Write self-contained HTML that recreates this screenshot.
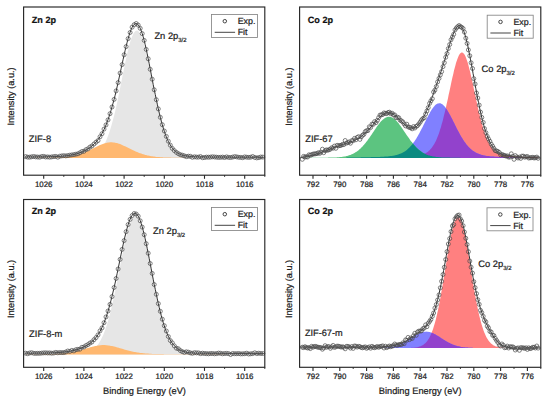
<!DOCTYPE html>
<html><head><meta charset="utf-8"><title>XPS spectra</title>
<style>html,body{margin:0;padding:0;background:#fff;}body{width:550px;height:398px;overflow:hidden;font-family:"Liberation Sans",sans-serif;}svg{display:block;}</style>
</head><body><svg width="550" height="398" viewBox="0 0 550 398" font-family='"Liberation Sans", sans-serif' text-rendering="geometricPrecision" fill="#1c1c1c"><style>text{stroke:#1c1c1c;stroke-width:0.22px}</style><path d="M53.8 158.1L53.8 157.9L54.8 157.9L55.8 157.9L56.8 157.9L57.8 157.9L58.8 157.9L59.8 157.9L60.8 157.9L61.8 157.9L62.8 157.9L63.8 157.9L64.8 157.9L65.8 157.9L66.8 157.9L67.8 157.9L68.8 157.8L69.8 157.8L70.8 157.8L71.8 157.8L72.8 157.8L73.9 157.8L74.9 157.8L75.9 157.8L76.9 157.7L77.9 157.7L78.9 157.7L79.9 157.6L80.9 157.6L81.9 157.5L82.9 157.5L83.9 157.4L84.9 157.3L85.9 157.2L86.9 157.1L87.9 156.9L88.9 156.7L89.9 156.5L90.9 156.2L91.9 155.9L92.9 155.5L94 155.1L95 154.6L96 154L97 153.3L98 152.5L99 151.6L100 150.6L101 149.4L102 148.1L103 146.6L104 144.9L105 143L106 140.9L107 138.6L108 136.1L109 133.3L110 130.3L111 127L112 123.5L113 119.8L114.1 115.8L115.1 111.7L116.1 107.3L117.1 102.7L118.1 98L119.1 93.1L120.1 88.1L121.1 83.1L122.1 78L123.1 73L124.1 68L125.1 63.1L126.1 58.4L127.1 54L128.1 49.7L129.1 45.8L130.1 42.3L131.1 39.1L132.1 36.4L133.1 34.2L134.2 32.5L135.2 31.3L136.2 30.7L137.2 30.6L138.2 31.1L139.2 32.2L140.2 33.7L141.2 35.8L142.2 38.4L143.2 41.4L144.2 44.9L145.2 48.7L146.2 52.8L147.2 57.3L148.2 61.9L149.2 66.7L150.2 71.7L151.2 76.7L152.2 81.8L153.2 86.8L154.2 91.8L155.3 96.7L156.3 101.5L157.3 106.1L158.3 110.5L159.3 114.8L160.3 118.8L161.3 122.6L162.3 126.2L163.3 129.5L164.3 132.5L165.3 135.4L166.3 138L167.3 140.3L168.3 142.5L169.3 144.4L170.3 146.2L171.3 147.7L172.3 149.1L173.3 150.3L174.3 151.4L175.4 152.3L176.4 153.1L177.4 153.8L178.4 154.5L179.4 155L180.4 155.4L181.4 155.8L182.4 156.2L183.4 156.4L184.4 156.7L185.4 156.9L186.4 157L187.4 157.2L188.4 157.3L189.4 157.4L190.4 157.5L191.4 157.5L192.4 157.6L193.4 157.6L194.5 157.7L195.5 157.7L196.5 157.7L197.5 157.7L198.5 157.8L199.5 157.8L200.5 157.8L201.5 157.8L202.5 157.8L203.5 157.8L204.5 157.8L205.5 157.8L206.5 157.9L207.5 157.9L208.5 157.9L209.5 157.9L210.5 157.9L211.5 157.9L212.5 157.9L213.5 157.9L214.6 157.9L215.6 157.9L216.6 157.9L217.6 157.9L218.6 157.9L219.6 157.9L220.6 157.9L221.6 157.9L222.6 157.9L223.6 157.9L224.6 157.9L224.6 158.1Z" fill="#e6e6e6"/><path d="M25.6 158.1L25.6 157.9L26.6 157.9L27.6 157.9L28.6 157.9L29.6 157.9L30.6 157.9L31.6 157.9L32.6 157.9L33.7 157.9L34.7 157.9L35.7 157.9L36.7 157.8L37.7 157.8L38.7 157.8L39.7 157.8L40.7 157.8L41.7 157.8L42.7 157.8L43.7 157.8L44.7 157.8L45.7 157.8L46.7 157.8L47.7 157.7L48.7 157.7L49.7 157.7L50.7 157.7L51.7 157.7L52.7 157.6L53.8 157.6L54.8 157.6L55.8 157.5L56.8 157.5L57.8 157.5L58.8 157.4L59.8 157.4L60.8 157.3L61.8 157.2L62.8 157.2L63.8 157.1L64.8 157L65.8 156.9L66.8 156.8L67.8 156.7L68.8 156.5L69.8 156.4L70.8 156.2L71.8 156.1L72.8 155.9L73.9 155.7L74.9 155.5L75.9 155.2L76.9 155L77.9 154.7L78.9 154.4L79.9 154.1L80.9 153.8L81.9 153.4L82.9 153.1L83.9 152.7L84.9 152.3L85.9 151.8L86.9 151.4L87.9 151L88.9 150.5L89.9 150L90.9 149.5L91.9 149L92.9 148.5L93.9 148L95 147.5L96 147L97 146.5L98 146L99 145.6L100 145.1L101 144.7L102 144.3L103 143.9L104 143.6L105 143.2L106 143L107 142.7L108 142.6L109 142.4L110 142.3L111 142.3L112 142.3L113 142.4L114.1 142.5L115.1 142.7L116.1 142.9L117.1 143.1L118.1 143.4L119.1 143.8L120.1 144.1L121.1 144.5L122.1 144.9L123.1 145.4L124.1 145.9L125.1 146.3L126.1 146.8L127.1 147.3L128.1 147.8L129.1 148.3L130.1 148.8L131.1 149.3L132.1 149.8L133.1 150.3L134.2 150.8L135.2 151.2L136.2 151.7L137.2 152.1L138.2 152.5L139.2 152.9L140.2 153.3L141.2 153.6L142.2 154L143.2 154.3L144.2 154.6L145.2 154.9L146.2 155.1L147.2 155.4L148.2 155.6L149.2 155.8L150.2 156L151.2 156.2L152.2 156.3L153.2 156.5L154.2 156.6L155.3 156.8L156.3 156.9L157.3 157L158.3 157.1L159.3 157.1L160.3 157.2L161.3 157.3L162.3 157.3L163.3 157.4L164.3 157.4L165.3 157.5L166.3 157.5L167.3 157.6L168.3 157.6L169.3 157.6L170.3 157.6L171.3 157.7L172.3 157.7L173.3 157.7L174.3 157.7L175.4 157.7L176.4 157.8L177.4 157.8L178.4 157.8L179.4 157.8L180.4 157.8L181.4 157.8L182.4 157.8L183.4 157.8L184.4 157.8L185.4 157.8L186.4 157.9L187.4 157.9L188.4 157.9L189.4 157.9L190.4 157.9L191.4 157.9L192.4 157.9L193.4 157.9L194.5 157.9L195.5 157.9L196.5 157.9L197.5 157.9L198.5 157.9L199.5 157.9L200.5 157.9L201.5 157.9L202.5 157.9L203.5 157.9L204.5 157.9L205.5 157.9L206.5 157.9L207.5 157.9L208.5 158L209.5 158L210.5 158L211.5 158L212.5 158L213.5 158L214.6 158L215.6 158L216.6 158L217.6 158L218.6 158L219.6 158L220.6 158L221.6 158L222.6 158L223.6 158L224.6 158L224.6 158.1Z" fill="#ffb870"/><path d="M24.6 157L25.6 157L26.6 157L27.6 156.9L28.6 156.9L29.6 156.9L30.6 156.9L31.6 156.9L32.6 156.9L33.7 156.9L34.7 156.9L35.7 156.9L36.7 156.9L37.7 156.9L38.7 156.9L39.7 156.9L40.7 156.8L41.7 156.8L42.7 156.8L43.7 156.8L44.7 156.8L45.7 156.8L46.7 156.8L47.7 156.7L48.7 156.7L49.7 156.7L50.7 156.7L51.7 156.6L52.7 156.6L53.8 156.6L54.8 156.6L55.8 156.5L56.8 156.5L57.8 156.4L58.8 156.4L59.8 156.3L60.8 156.3L61.8 156.2L62.8 156.1L63.8 156L64.8 155.9L65.8 155.8L66.8 155.7L67.8 155.6L68.8 155.4L69.8 155.3L70.8 155.1L71.8 154.9L72.8 154.7L73.9 154.5L74.9 154.3L75.9 154L76.9 153.8L77.9 153.5L78.9 153.1L79.9 152.8L80.9 152.4L81.9 152L82.9 151.6L83.9 151.1L84.9 150.6L85.9 150.1L86.9 149.5L87.9 148.9L88.9 148.3L89.9 147.6L90.9 146.8L91.9 146L92.9 145.1L94 144.2L95 143.2L96 142.1L97 140.9L98 139.6L99 138.3L100 136.8L101 135.2L102 133.4L103 131.5L104 129.5L105 127.3L106 125L107 122.4L108 119.7L109 116.8L110 113.7L111 110.4L112 106.9L113 103.3L114.1 99.4L115.1 95.4L116.1 91.2L117.1 86.9L118.1 82.5L119.1 77.9L120.1 73.3L121.1 68.7L122.1 64L123.1 59.5L124.1 54.9L125.1 50.6L126.1 46.4L127.1 42.4L128.1 38.7L129.1 35.3L130.1 32.2L131.1 29.6L132.1 27.4L133.1 25.6L134.2 24.4L135.2 23.7L136.2 23.5L137.2 23.9L138.2 24.8L139.2 26.2L140.2 28.2L141.2 30.6L142.2 33.5L143.2 36.9L144.2 40.6L145.2 44.7L146.2 49.1L147.2 53.8L148.2 58.7L149.2 63.7L150.2 68.8L151.2 74.1L152.2 79.3L153.2 84.5L154.2 89.6L155.3 94.6L156.3 99.5L157.3 104.2L158.3 108.8L159.3 113.1L160.3 117.2L161.3 121.1L162.3 124.7L163.3 128.1L164.3 131.2L165.3 134.1L166.3 136.7L167.3 139.1L168.3 141.3L169.3 143.2L170.3 145L171.3 146.6L172.3 148L173.3 149.2L174.3 150.3L175.4 151.3L176.4 152.1L177.4 152.8L178.4 153.4L179.4 154L180.4 154.4L181.4 154.8L182.4 155.2L183.4 155.5L184.4 155.7L185.4 155.9L186.4 156.1L187.4 156.2L188.4 156.3L189.4 156.4L190.4 156.5L191.4 156.6L192.4 156.7L193.4 156.7L194.5 156.8L195.5 156.8L196.5 156.8L197.5 156.9L198.5 156.9L199.5 156.9L200.5 156.9L201.5 156.9L202.5 157L203.5 157L204.5 157L205.5 157L206.5 157L207.5 157L208.5 157L209.5 157L210.5 157L211.5 157L212.5 157.1L213.5 157.1L214.6 157.1L215.6 157.1L216.6 157.1L217.6 157.1L218.6 157.1L219.6 157.1L220.6 157.1L221.6 157.1L222.6 157.1L223.6 157.1L224.6 157.1L225.6 157.1L226.6 157.1L227.6 157.1L228.6 157.2L229.6 157.2L230.6 157.2L231.6 157.2L232.6 157.2L233.6 157.2L234.7 157.2L235.7 157.2L236.7 157.2L237.7 157.2L238.7 157.2L239.7 157.2L240.7 157.2L241.7 157.2L242.7 157.2L243.7 157.2L244.7 157.2L245.7 157.2L246.7 157.2L247.7 157.2L248.7 157.2L249.7 157.2L250.7 157.2L251.7 157.2L252.7 157.2L253.7 157.2L254.8 157.2L255.8 157.2L256.8 157.2L257.8 157.2L258.8 157.3L259.8 157.3L260.8 157.3L261.8 157.3L262.8 157.3L263.8 157.3" fill="none" stroke="#262626" stroke-width="0.95"/><g fill="none" stroke="#4a4a4a" stroke-width="0.7"><circle cx="25.6" cy="156.6" r="2.0"/><circle cx="27.6" cy="157.1" r="2.0"/><circle cx="29.6" cy="157.2" r="2.0"/><circle cx="31.6" cy="156.8" r="2.0"/><circle cx="33.7" cy="156.5" r="2.0"/><circle cx="35.7" cy="156.9" r="2.0"/><circle cx="37.7" cy="157" r="2.0"/><circle cx="39.7" cy="157.2" r="2.0"/><circle cx="41.7" cy="156.5" r="2.0"/><circle cx="43.7" cy="156.4" r="2.0"/><circle cx="45.7" cy="157" r="2.0"/><circle cx="47.7" cy="156.9" r="2.0"/><circle cx="49.7" cy="157.2" r="2.0"/><circle cx="51.7" cy="156.9" r="2.0"/><circle cx="53.8" cy="156.6" r="2.0"/><circle cx="55.8" cy="156.4" r="2.0"/><circle cx="57.8" cy="157.2" r="2.0"/><circle cx="59.8" cy="156.2" r="2.0"/><circle cx="61.8" cy="155.9" r="2.0"/><circle cx="63.8" cy="155.7" r="2.0"/><circle cx="65.8" cy="155.9" r="2.0"/><circle cx="67.8" cy="155.6" r="2.0"/><circle cx="69.8" cy="155.2" r="2.0"/><circle cx="71.8" cy="154.9" r="2.0"/><circle cx="73.9" cy="154.6" r="2.0"/><circle cx="75.9" cy="154.2" r="2.0"/><circle cx="77.9" cy="153.8" r="2.0"/><circle cx="79.9" cy="152.8" r="2.0"/><circle cx="81.9" cy="151.5" r="2.0"/><circle cx="83.9" cy="151.3" r="2.0"/><circle cx="85.9" cy="149.7" r="2.0"/><circle cx="87.9" cy="148.9" r="2.0"/><circle cx="89.9" cy="147.1" r="2.0"/><circle cx="91.9" cy="146" r="2.0"/><circle cx="94" cy="144" r="2.0"/><circle cx="96" cy="142.2" r="2.0"/><circle cx="98" cy="140.6" r="2.0"/><circle cx="100" cy="136.8" r="2.0"/><circle cx="102" cy="133.7" r="2.0"/><circle cx="104" cy="129.1" r="2.0"/><circle cx="106" cy="124.9" r="2.0"/><circle cx="108" cy="119.9" r="2.0"/><circle cx="110" cy="113.7" r="2.0"/><circle cx="112" cy="107" r="2.0"/><circle cx="114.1" cy="99.4" r="2.0"/><circle cx="116.1" cy="90.9" r="2.0"/><circle cx="118.1" cy="82.6" r="2.0"/><circle cx="120.1" cy="73.1" r="2.0"/><circle cx="122.1" cy="64.6" r="2.0"/><circle cx="124.1" cy="54.8" r="2.0"/><circle cx="126.1" cy="46.6" r="2.0"/><circle cx="128.1" cy="38.7" r="2.0"/><circle cx="130.1" cy="32.5" r="2.0"/><circle cx="132.1" cy="27.2" r="2.0"/><circle cx="134.2" cy="24.7" r="2.0"/><circle cx="136.2" cy="23.5" r="2.0"/><circle cx="138.2" cy="25.1" r="2.0"/><circle cx="140.2" cy="28.3" r="2.0"/><circle cx="142.2" cy="33.6" r="2.0"/><circle cx="144.2" cy="40.4" r="2.0"/><circle cx="146.2" cy="49.4" r="2.0"/><circle cx="148.2" cy="58.8" r="2.0"/><circle cx="150.2" cy="69.3" r="2.0"/><circle cx="152.2" cy="79.2" r="2.0"/><circle cx="154.2" cy="89.8" r="2.0"/><circle cx="156.3" cy="99.7" r="2.0"/><circle cx="158.3" cy="108.9" r="2.0"/><circle cx="160.3" cy="117.3" r="2.0"/><circle cx="162.3" cy="124.7" r="2.0"/><circle cx="164.3" cy="131" r="2.0"/><circle cx="166.3" cy="136.4" r="2.0"/><circle cx="168.3" cy="141.2" r="2.0"/><circle cx="170.3" cy="145.2" r="2.0"/><circle cx="172.3" cy="148.4" r="2.0"/><circle cx="174.3" cy="150.6" r="2.0"/><circle cx="176.4" cy="152.4" r="2.0"/><circle cx="178.4" cy="153.7" r="2.0"/><circle cx="180.4" cy="154.7" r="2.0"/><circle cx="182.4" cy="155.2" r="2.0"/><circle cx="184.4" cy="155.9" r="2.0"/><circle cx="186.4" cy="156.6" r="2.0"/><circle cx="188.4" cy="156.2" r="2.0"/><circle cx="190.4" cy="156.3" r="2.0"/><circle cx="192.4" cy="157.3" r="2.0"/><circle cx="194.5" cy="156.8" r="2.0"/><circle cx="196.5" cy="157.1" r="2.0"/><circle cx="198.5" cy="157.1" r="2.0"/><circle cx="200.5" cy="156.6" r="2.0"/><circle cx="202.5" cy="157.7" r="2.0"/><circle cx="204.5" cy="157.5" r="2.0"/><circle cx="206.5" cy="157.1" r="2.0"/><circle cx="208.5" cy="157.2" r="2.0"/><circle cx="210.5" cy="157.1" r="2.0"/><circle cx="212.5" cy="156.8" r="2.0"/><circle cx="214.6" cy="157" r="2.0"/><circle cx="216.6" cy="157.2" r="2.0"/><circle cx="218.6" cy="157.4" r="2.0"/><circle cx="220.6" cy="157.3" r="2.0"/><circle cx="222.6" cy="157.1" r="2.0"/><circle cx="224.6" cy="157.5" r="2.0"/><circle cx="226.6" cy="156.9" r="2.0"/><circle cx="228.6" cy="157.4" r="2.0"/><circle cx="230.6" cy="157.5" r="2.0"/><circle cx="232.6" cy="157.1" r="2.0"/><circle cx="234.7" cy="156.6" r="2.0"/><circle cx="236.7" cy="156.9" r="2.0"/><circle cx="238.7" cy="157.3" r="2.0"/><circle cx="240.7" cy="157.4" r="2.0"/><circle cx="242.7" cy="157.7" r="2.0"/><circle cx="244.7" cy="156.9" r="2.0"/><circle cx="246.7" cy="157.2" r="2.0"/><circle cx="248.7" cy="157.4" r="2.0"/><circle cx="250.7" cy="157.2" r="2.0"/><circle cx="252.7" cy="156.5" r="2.0"/><circle cx="254.8" cy="157.5" r="2.0"/><circle cx="256.8" cy="157.9" r="2.0"/><circle cx="258.8" cy="157.6" r="2.0"/><circle cx="260.8" cy="157" r="2.0"/><circle cx="262.8" cy="157.1" r="2.0"/></g><path d="M53.8 354.4L53.8 354.2L54.8 354.2L55.8 354.2L56.8 354.2L57.8 354.2L58.8 354.2L59.8 354.2L60.8 354.1L61.8 354.1L62.8 354.1L63.8 354.1L64.8 354.1L65.8 354.1L66.8 354.1L67.8 354.1L68.8 354.1L69.8 354L70.8 354L71.8 354L72.8 354L73.9 353.9L74.9 353.9L75.9 353.9L76.9 353.8L77.9 353.8L78.9 353.7L79.9 353.6L80.9 353.5L81.9 353.4L82.9 353.2L83.9 353.1L84.9 352.9L85.9 352.6L86.9 352.4L87.9 352.1L88.9 351.7L89.9 351.2L90.9 350.7L91.9 350.1L92.9 349.5L94 348.7L95 347.8L96 346.8L97 345.7L98 344.4L99 342.9L100 341.3L101 339.5L102 337.6L103 335.4L104 333L105 330.3L106 327.5L107 324.4L108 321.1L109 317.5L110 313.7L111 309.7L112 305.5L113 301L114.1 296.4L115.1 291.6L116.1 286.7L117.1 281.6L118.1 276.5L119.1 271.3L120.1 266.1L121.1 261L122.1 255.9L123.1 250.9L124.1 246.1L125.1 241.5L126.1 237.2L127.1 233.2L128.1 229.5L129.1 226.3L130.1 223.4L131.1 221L132.1 219.1L133.1 217.7L134.2 216.8L135.2 216.5L136.2 216.7L137.2 217.4L138.2 218.7L139.2 220.5L140.2 222.8L141.2 225.6L142.2 228.8L143.2 232.4L144.2 236.3L145.2 240.6L146.2 245.1L147.2 249.8L148.2 254.8L149.2 259.8L150.2 265L151.2 270.1L152.2 275.3L153.2 280.5L154.2 285.5L155.3 290.5L156.3 295.3L157.3 300L158.3 304.5L159.3 308.8L160.3 312.8L161.3 316.7L162.3 320.3L163.3 323.7L164.3 326.8L165.3 329.7L166.3 332.4L167.3 334.9L168.3 337.1L169.3 339.1L170.3 341L171.3 342.6L172.3 344.1L173.3 345.4L174.3 346.6L175.4 347.6L176.4 348.5L177.4 349.3L178.4 350L179.4 350.6L180.4 351.1L181.4 351.6L182.4 352L183.4 352.3L184.4 352.6L185.4 352.8L186.4 353L187.4 353.2L188.4 353.4L189.4 353.5L190.4 353.6L191.4 353.7L192.4 353.7L193.4 353.8L194.5 353.9L195.5 353.9L196.5 353.9L197.5 354L198.5 354L199.5 354L200.5 354L201.5 354.1L202.5 354.1L203.5 354.1L204.5 354.1L205.5 354.1L206.5 354.1L207.5 354.1L208.5 354.1L209.5 354.1L210.5 354.2L211.5 354.2L212.5 354.2L213.5 354.2L214.6 354.2L215.6 354.2L216.6 354.2L217.6 354.2L218.6 354.2L219.6 354.2L220.6 354.2L221.6 354.2L222.6 354.2L223.6 354.2L224.6 354.2L224.6 354.4Z" fill="#e6e6e6"/><path d="M25.6 354.4L25.6 354.3L26.6 354.3L27.6 354.3L28.6 354.3L29.6 354.3L30.6 354.2L31.6 354.2L32.6 354.2L33.7 354.2L34.7 354.2L35.7 354.2L36.7 354.2L37.7 354.2L38.7 354.2L39.7 354.2L40.7 354.2L41.7 354.2L42.7 354.2L43.7 354.1L44.7 354.1L45.7 354.1L46.7 354.1L47.7 354.1L48.7 354.1L49.7 354L50.7 354L51.7 354L52.7 353.9L53.8 353.9L54.8 353.9L55.8 353.8L56.8 353.8L57.8 353.7L58.8 353.7L59.8 353.6L60.8 353.5L61.8 353.4L62.8 353.3L63.8 353.2L64.8 353.1L65.8 353L66.8 352.9L67.8 352.8L68.8 352.6L69.8 352.5L70.8 352.3L71.8 352.1L72.8 351.9L73.9 351.7L74.9 351.5L75.9 351.3L76.9 351.1L77.9 350.8L78.9 350.6L79.9 350.3L80.9 350L81.9 349.8L82.9 349.5L83.9 349.2L84.9 348.9L85.9 348.6L86.9 348.3L87.9 348L88.9 347.7L89.9 347.4L90.9 347.1L91.9 346.9L92.9 346.6L93.9 346.4L95 346.1L96 345.9L97 345.7L98 345.6L99 345.4L100 345.3L101 345.2L102 345.1L103 345.1L104 345.1L105 345.1L106 345.2L107 345.3L108 345.4L109 345.5L110 345.7L111 345.9L112 346.1L113 346.3L114.1 346.6L115.1 346.8L116.1 347.1L117.1 347.4L118.1 347.6L119.1 347.9L120.1 348.2L121.1 348.5L122.1 348.8L123.1 349.1L124.1 349.4L125.1 349.7L126.1 350L127.1 350.2L128.1 350.5L129.1 350.8L130.1 351L131.1 351.2L132.1 351.5L133.1 351.7L134.2 351.9L135.2 352.1L136.2 352.3L137.2 352.4L138.2 352.6L139.2 352.7L140.2 352.9L141.2 353L142.2 353.1L143.2 353.2L144.2 353.3L145.2 353.4L146.2 353.5L147.2 353.6L148.2 353.6L149.2 353.7L150.2 353.8L151.2 353.8L152.2 353.9L153.2 353.9L154.2 353.9L155.3 354L156.3 354L157.3 354L158.3 354.1L159.3 354.1L160.3 354.1L161.3 354.1L162.3 354.1L163.3 354.1L164.3 354.2L165.3 354.2L166.3 354.2L167.3 354.2L168.3 354.2L169.3 354.2L170.3 354.2L171.3 354.2L172.3 354.2L173.3 354.2L174.3 354.2L175.4 354.2L176.4 354.2L177.4 354.2L178.4 354.3L179.4 354.3L180.4 354.3L181.4 354.3L182.4 354.3L183.4 354.3L184.4 354.3L185.4 354.3L186.4 354.3L187.4 354.3L188.4 354.3L189.4 354.3L190.4 354.3L191.4 354.3L192.4 354.3L193.4 354.3L194.5 354.3L195.5 354.3L196.5 354.3L197.5 354.3L198.5 354.3L199.5 354.3L200.5 354.3L201.5 354.3L202.5 354.3L203.5 354.3L204.5 354.3L205.5 354.3L206.5 354.3L207.5 354.3L208.5 354.3L209.5 354.3L210.5 354.3L211.5 354.3L212.5 354.3L213.5 354.3L214.6 354.3L215.6 354.3L216.6 354.3L217.6 354.3L218.6 354.3L219.6 354.3L220.6 354.3L221.6 354.3L222.6 354.3L223.6 354.3L224.6 354.3L224.6 354.4Z" fill="#ffb870"/><path d="M24.6 353.3L25.6 353.2L26.6 353.2L27.6 353.2L28.6 353.2L29.6 353.2L30.6 353.2L31.6 353.2L32.6 353.2L33.7 353.2L34.7 353.2L35.7 353.2L36.7 353.2L37.7 353.2L38.7 353.1L39.7 353.1L40.7 353.1L41.7 353.1L42.7 353.1L43.7 353.1L44.7 353.1L45.7 353L46.7 353L47.7 353L48.7 353L49.7 352.9L50.7 352.9L51.7 352.9L52.7 352.8L53.8 352.8L54.8 352.8L55.8 352.7L56.8 352.6L57.8 352.6L58.8 352.5L59.8 352.4L60.8 352.4L61.8 352.3L62.8 352.2L63.8 352.1L64.8 352L65.8 351.8L66.8 351.7L67.8 351.5L68.8 351.4L69.8 351.2L70.8 351L71.8 350.8L72.8 350.6L73.9 350.4L74.9 350.1L75.9 349.9L76.9 349.6L77.9 349.3L78.9 349L79.9 348.6L80.9 348.2L81.9 347.8L82.9 347.4L83.9 347L84.9 346.5L85.9 345.9L86.9 345.4L87.9 344.7L88.9 344.1L89.9 343.4L90.9 342.6L91.9 341.7L92.9 340.8L94 339.8L95 338.7L96 337.4L97 336.1L98 334.7L99 333.1L100 331.3L101 329.5L102 327.4L103 325.2L104 322.8L105 320.2L106 317.4L107 314.4L108 311.2L109 307.8L110 304.1L111 300.3L112 296.3L113 292.1L114.1 287.7L115.1 283.1L116.1 278.5L117.1 273.7L118.1 268.9L119.1 264L120.1 259.1L121.1 254.2L122.1 249.5L123.1 244.8L124.1 240.3L125.1 236L126.1 232L127.1 228.2L128.1 224.8L129.1 221.8L130.1 219.2L131.1 217L132.1 215.4L133.1 214.2L134.2 213.5L135.2 213.4L136.2 213.8L137.2 214.7L138.2 216.1L139.2 218.1L140.2 220.5L141.2 223.4L142.2 226.7L143.2 230.4L144.2 234.5L145.2 238.8L146.2 243.4L147.2 248.3L148.2 253.3L149.2 258.4L150.2 263.6L151.2 268.8L152.2 274.1L153.2 279.2L154.2 284.4L155.3 289.4L156.3 294.2L157.3 298.9L158.3 303.4L159.3 307.7L160.3 311.8L161.3 315.7L162.3 319.3L163.3 322.7L164.3 325.9L165.3 328.8L166.3 331.5L167.3 333.9L168.3 336.2L169.3 338.2L170.3 340.1L171.3 341.7L172.3 343.2L173.3 344.5L174.3 345.7L175.4 346.7L176.4 347.7L177.4 348.5L178.4 349.2L179.4 349.8L180.4 350.3L181.4 350.7L182.4 351.1L183.4 351.5L184.4 351.8L185.4 352L186.4 352.2L187.4 352.4L188.4 352.5L189.4 352.7L190.4 352.8L191.4 352.9L192.4 352.9L193.4 353L194.5 353.1L195.5 353.1L196.5 353.1L197.5 353.2L198.5 353.2L199.5 353.2L200.5 353.3L201.5 353.3L202.5 353.3L203.5 353.3L204.5 353.3L205.5 353.3L206.5 353.3L207.5 353.3L208.5 353.4L209.5 353.4L210.5 353.4L211.5 353.4L212.5 353.4L213.5 353.4L214.6 353.4L215.6 353.4L216.6 353.4L217.6 353.4L218.6 353.4L219.6 353.4L220.6 353.4L221.6 353.4L222.6 353.5L223.6 353.5L224.6 353.5L225.6 353.5L226.6 353.5L227.6 353.5L228.6 353.5L229.6 353.5L230.6 353.5L231.6 353.5L232.6 353.5L233.6 353.5L234.7 353.5L235.7 353.5L236.7 353.5L237.7 353.5L238.7 353.5L239.7 353.5L240.7 353.5L241.7 353.5L242.7 353.5L243.7 353.5L244.7 353.5L245.7 353.5L246.7 353.5L247.7 353.5L248.7 353.5L249.7 353.5L250.7 353.6L251.7 353.6L252.7 353.6L253.7 353.6L254.8 353.6L255.8 353.6L256.8 353.6L257.8 353.6L258.8 353.6L259.8 353.6L260.8 353.6L261.8 353.6L262.8 353.6L263.8 353.6" fill="none" stroke="#262626" stroke-width="0.95"/><g fill="none" stroke="#4a4a4a" stroke-width="0.7"><circle cx="25.6" cy="353.2" r="2.0"/><circle cx="27.6" cy="353.7" r="2.0"/><circle cx="29.6" cy="353" r="2.0"/><circle cx="31.6" cy="352.7" r="2.0"/><circle cx="33.7" cy="353.3" r="2.0"/><circle cx="35.7" cy="353.4" r="2.0"/><circle cx="37.7" cy="353.3" r="2.0"/><circle cx="39.7" cy="353.3" r="2.0"/><circle cx="41.7" cy="353.1" r="2.0"/><circle cx="43.7" cy="352.9" r="2.0"/><circle cx="45.7" cy="352.8" r="2.0"/><circle cx="47.7" cy="353" r="2.0"/><circle cx="49.7" cy="352.9" r="2.0"/><circle cx="51.7" cy="353.2" r="2.0"/><circle cx="53.8" cy="353" r="2.0"/><circle cx="55.8" cy="352.4" r="2.0"/><circle cx="57.8" cy="352.8" r="2.0"/><circle cx="59.8" cy="352.5" r="2.0"/><circle cx="61.8" cy="352.6" r="2.0"/><circle cx="63.8" cy="352.6" r="2.0"/><circle cx="65.8" cy="352" r="2.0"/><circle cx="67.8" cy="351" r="2.0"/><circle cx="69.8" cy="351.4" r="2.0"/><circle cx="71.8" cy="350.4" r="2.0"/><circle cx="73.9" cy="350.9" r="2.0"/><circle cx="75.9" cy="349.7" r="2.0"/><circle cx="77.9" cy="349.3" r="2.0"/><circle cx="79.9" cy="349.2" r="2.0"/><circle cx="81.9" cy="347.3" r="2.0"/><circle cx="83.9" cy="347" r="2.0"/><circle cx="85.9" cy="345.6" r="2.0"/><circle cx="87.9" cy="344.6" r="2.0"/><circle cx="89.9" cy="343.1" r="2.0"/><circle cx="91.9" cy="342" r="2.0"/><circle cx="94" cy="339.7" r="2.0"/><circle cx="96" cy="337.6" r="2.0"/><circle cx="98" cy="334.9" r="2.0"/><circle cx="100" cy="330.9" r="2.0"/><circle cx="102" cy="327.9" r="2.0"/><circle cx="104" cy="322.7" r="2.0"/><circle cx="106" cy="316.9" r="2.0"/><circle cx="108" cy="311" r="2.0"/><circle cx="110" cy="304.4" r="2.0"/><circle cx="112" cy="296.6" r="2.0"/><circle cx="114.1" cy="287.5" r="2.0"/><circle cx="116.1" cy="278.5" r="2.0"/><circle cx="118.1" cy="269" r="2.0"/><circle cx="120.1" cy="259.4" r="2.0"/><circle cx="122.1" cy="249.4" r="2.0"/><circle cx="124.1" cy="240.6" r="2.0"/><circle cx="126.1" cy="231.7" r="2.0"/><circle cx="128.1" cy="224.6" r="2.0"/><circle cx="130.1" cy="219.4" r="2.0"/><circle cx="132.1" cy="215.6" r="2.0"/><circle cx="134.2" cy="213.5" r="2.0"/><circle cx="136.2" cy="214" r="2.0"/><circle cx="138.2" cy="216.2" r="2.0"/><circle cx="140.2" cy="220.8" r="2.0"/><circle cx="142.2" cy="227.1" r="2.0"/><circle cx="144.2" cy="234.7" r="2.0"/><circle cx="146.2" cy="243.7" r="2.0"/><circle cx="148.2" cy="253.2" r="2.0"/><circle cx="150.2" cy="263.5" r="2.0"/><circle cx="152.2" cy="273.4" r="2.0"/><circle cx="154.2" cy="284.5" r="2.0"/><circle cx="156.3" cy="294.3" r="2.0"/><circle cx="158.3" cy="303.6" r="2.0"/><circle cx="160.3" cy="311.3" r="2.0"/><circle cx="162.3" cy="319.2" r="2.0"/><circle cx="164.3" cy="325.7" r="2.0"/><circle cx="166.3" cy="331" r="2.0"/><circle cx="168.3" cy="336.5" r="2.0"/><circle cx="170.3" cy="340.5" r="2.0"/><circle cx="172.3" cy="342.9" r="2.0"/><circle cx="174.3" cy="345.9" r="2.0"/><circle cx="176.4" cy="348.2" r="2.0"/><circle cx="178.4" cy="348.8" r="2.0"/><circle cx="180.4" cy="350.6" r="2.0"/><circle cx="182.4" cy="351.7" r="2.0"/><circle cx="184.4" cy="352.4" r="2.0"/><circle cx="186.4" cy="351.8" r="2.0"/><circle cx="188.4" cy="352.2" r="2.0"/><circle cx="190.4" cy="352.9" r="2.0"/><circle cx="192.4" cy="353.3" r="2.0"/><circle cx="194.5" cy="352.7" r="2.0"/><circle cx="196.5" cy="352.9" r="2.0"/><circle cx="198.5" cy="352.9" r="2.0"/><circle cx="200.5" cy="353.6" r="2.0"/><circle cx="202.5" cy="353.2" r="2.0"/><circle cx="204.5" cy="353.5" r="2.0"/><circle cx="206.5" cy="353.6" r="2.0"/><circle cx="208.5" cy="353.8" r="2.0"/><circle cx="210.5" cy="353.5" r="2.0"/><circle cx="212.5" cy="353.5" r="2.0"/><circle cx="214.6" cy="353.8" r="2.0"/><circle cx="216.6" cy="353.6" r="2.0"/><circle cx="218.6" cy="353.1" r="2.0"/><circle cx="220.6" cy="353.3" r="2.0"/><circle cx="222.6" cy="353.8" r="2.0"/><circle cx="224.6" cy="353.5" r="2.0"/><circle cx="226.6" cy="353.4" r="2.0"/><circle cx="228.6" cy="353.6" r="2.0"/><circle cx="230.6" cy="354.5" r="2.0"/><circle cx="232.6" cy="353.5" r="2.0"/><circle cx="234.7" cy="353.7" r="2.0"/><circle cx="236.7" cy="353.7" r="2.0"/><circle cx="238.7" cy="353.5" r="2.0"/><circle cx="240.7" cy="353.9" r="2.0"/><circle cx="242.7" cy="353.8" r="2.0"/><circle cx="244.7" cy="353.7" r="2.0"/><circle cx="246.7" cy="353.2" r="2.0"/><circle cx="248.7" cy="354" r="2.0"/><circle cx="250.7" cy="353.8" r="2.0"/><circle cx="252.7" cy="353.6" r="2.0"/><circle cx="254.8" cy="352.8" r="2.0"/><circle cx="256.8" cy="353.6" r="2.0"/><circle cx="258.8" cy="353.2" r="2.0"/><circle cx="260.8" cy="353.5" r="2.0"/><circle cx="262.8" cy="353.5" r="2.0"/></g><path d="M373.3 158L373.3 157.4L374 157.4L374.6 157.4L375.3 157.4L376 157.4L376.7 157.4L377.3 157.4L378 157.4L378.7 157.4L379.4 157.3L380 157.3L380.7 157.3L381.4 157.3L382 157.3L382.7 157.3L383.4 157.3L384.1 157.3L384.7 157.3L385.4 157.2L386.1 157.2L386.8 157.2L387.4 157.2L388.1 157.2L388.8 157.2L389.4 157.2L390.1 157.1L390.8 157.1L391.5 157.1L392.1 157.1L392.8 157.1L393.5 157.1L394.2 157L394.8 157L395.5 157L396.2 157L396.8 157L397.5 157L398.2 156.9L398.9 156.9L399.5 156.9L400.2 156.9L400.9 156.8L401.6 156.8L402.2 156.8L402.9 156.8L403.6 156.7L404.2 156.7L404.9 156.7L405.6 156.6L406.3 156.6L406.9 156.6L407.6 156.5L408.3 156.5L409 156.5L409.6 156.4L410.3 156.4L411 156.3L411.6 156.3L412.3 156.2L413 156.2L413.7 156.1L414.3 156L415 156L415.7 155.9L416.4 155.8L417 155.7L417.7 155.6L418.4 155.5L419 155.4L419.7 155.2L420.4 155.1L421.1 154.9L421.7 154.7L422.4 154.5L423.1 154.3L423.8 154L424.4 153.7L425.1 153.4L425.8 153.1L426.4 152.7L427.1 152.2L427.8 151.7L428.5 151.2L429.1 150.6L429.8 150L430.5 149.3L431.2 148.5L431.8 147.7L432.5 146.8L433.2 145.8L433.8 144.7L434.5 143.5L435.2 142.2L435.9 140.9L436.5 139.4L437.2 137.8L437.9 136.1L438.6 134.3L439.2 132.4L439.9 130.4L440.6 128.2L441.2 126L441.9 123.6L442.6 121.2L443.3 118.6L443.9 115.9L444.6 113.1L445.3 110.3L446 107.3L446.6 104.3L447.3 101.3L448 98.2L448.6 95L449.3 91.9L450 88.7L450.7 85.5L451.3 82.4L452 79.3L452.7 76.3L453.4 73.4L454 70.6L454.7 67.9L455.4 65.4L456 63L456.7 60.9L457.4 58.9L458.1 57.2L458.7 55.7L459.4 54.5L460.1 53.5L460.8 52.9L461.4 52.5L462.1 52.4L462.8 52.7L463.4 53.2L464.1 54L464.8 55.1L465.5 56.5L466.1 58.1L466.8 59.9L467.5 62L468.2 64.3L468.8 66.8L469.5 69.4L470.2 72.1L470.8 75L471.5 78L472.2 81L472.9 84.1L473.5 87.3L474.2 90.4L474.9 93.6L475.6 96.8L476.2 99.9L476.9 103L477.6 106L478.2 109L478.9 111.9L479.6 114.7L480.3 117.4L480.9 120L481.6 122.5L482.3 124.9L483 127.2L483.6 129.4L484.3 131.5L485 133.5L485.6 135.3L486.3 137.1L487 138.7L487.7 140.2L488.3 141.6L489 142.9L489.7 144.2L490.4 145.3L491 146.3L491.7 147.3L492.4 148.2L493 149L493.7 149.7L494.4 150.4L495.1 151L495.7 151.5L496.4 152L497.1 152.5L497.8 152.9L498.4 153.3L499.1 153.6L499.8 153.9L500.4 154.2L501.1 154.4L501.8 154.6L502.5 154.8L503.1 155L503.8 155.2L504.5 155.3L505.2 155.4L505.8 155.6L506.5 155.7L507.2 155.8L507.8 155.9L508.5 155.9L509.2 156L509.9 156.1L510.5 156.1L511.2 156.2L511.9 156.3L512.6 156.3L513.2 156.4L513.9 156.4L514.6 156.4L515.2 156.5L515.9 156.5L516.6 156.6L517.3 156.6L517.9 156.6L518.6 156.7L519.3 156.7L520 156.7L520.6 156.8L521.3 156.8L522 156.8L522.6 156.8L523.3 156.9L524 156.9L524.7 156.9L525.3 156.9L526 156.9L526.7 157L527.4 157L528 157L528.7 157L529.4 157L530 157.1L530.7 157.1L531.4 157.1L532.1 157.1L532.7 157.1L533.4 157.1L534.1 157.2L534.8 157.2L535.4 157.2L536.1 157.2L536.8 157.2L537.4 157.2L538.1 157.2L538.1 158Z" fill="#ff8080"/><path d="M346.5 158L346.5 157.5L347.2 157.5L347.8 157.5L348.5 157.5L349.2 157.5L349.9 157.5L350.5 157.5L351.2 157.5L351.9 157.5L352.5 157.5L353.2 157.5L353.9 157.4L354.5 157.4L355.2 157.4L355.9 157.4L356.6 157.4L357.2 157.4L357.9 157.4L358.6 157.4L359.2 157.4L359.9 157.4L360.6 157.4L361.2 157.3L361.9 157.3L362.6 157.3L363.2 157.3L363.9 157.3L364.6 157.3L365.3 157.3L365.9 157.3L366.6 157.2L367.3 157.2L367.9 157.2L368.6 157.2L369.3 157.2L369.9 157.2L370.6 157.2L371.3 157.1L372 157.1L372.6 157.1L373.3 157.1L374 157.1L374.6 157.1L375.3 157L376 157L376.6 157L377.3 157L378 156.9L378.7 156.9L379.3 156.9L380 156.9L380.7 156.8L381.3 156.8L382 156.8L382.7 156.7L383.4 156.7L384 156.7L384.7 156.6L385.4 156.6L386 156.5L386.7 156.5L387.4 156.4L388 156.4L388.7 156.3L389.4 156.2L390.1 156.1L390.7 156.1L391.4 156L392.1 155.9L392.7 155.8L393.4 155.7L394.1 155.5L394.7 155.4L395.4 155.2L396.1 155.1L396.8 154.9L397.4 154.7L398.1 154.5L398.8 154.3L399.4 154.1L400.1 153.8L400.8 153.5L401.4 153.2L402.1 152.9L402.8 152.6L403.4 152.2L404.1 151.8L404.8 151.4L405.5 150.9L406.1 150.4L406.8 149.9L407.5 149.3L408.1 148.7L408.8 148.1L409.5 147.4L410.1 146.7L410.8 146L411.5 145.2L412.2 144.4L412.8 143.5L413.5 142.6L414.2 141.7L414.8 140.7L415.5 139.7L416.2 138.7L416.9 137.6L417.5 136.4L418.2 135.3L418.9 134.1L419.5 132.9L420.2 131.6L420.9 130.3L421.5 129L422.2 127.7L422.9 126.4L423.5 125L424.2 123.7L424.9 122.3L425.6 121L426.2 119.6L426.9 118.3L427.6 117L428.2 115.7L428.9 114.4L429.6 113.2L430.2 112L430.9 110.9L431.6 109.8L432.3 108.8L432.9 107.9L433.6 107L434.3 106.2L434.9 105.5L435.6 104.8L436.3 104.3L436.9 103.9L437.6 103.6L438.3 103.4L439 103.2L439.6 103.2L440.3 103.3L441 103.6L441.6 103.9L442.3 104.3L443 104.8L443.6 105.4L444.3 106.1L445 106.9L445.7 107.8L446.3 108.8L447 109.8L447.7 110.9L448.3 112L449 113.2L449.7 114.4L450.3 115.6L451 116.9L451.7 118.3L452.4 119.6L453 120.9L453.7 122.3L454.4 123.6L455 125L455.7 126.3L456.4 127.7L457 129L457.7 130.3L458.4 131.6L459.1 132.8L459.7 134L460.4 135.2L461.1 136.4L461.7 137.5L462.4 138.6L463.1 139.7L463.8 140.7L464.4 141.7L465.1 142.6L465.8 143.5L466.4 144.4L467.1 145.2L467.8 146L468.4 146.7L469.1 147.4L469.8 148.1L470.4 148.7L471.1 149.3L471.8 149.9L472.5 150.4L473.1 150.9L473.8 151.3L474.5 151.8L475.1 152.2L475.8 152.5L476.5 152.9L477.1 153.2L477.8 153.5L478.5 153.8L479.2 154.1L479.8 154.3L480.5 154.5L481.2 154.7L481.8 154.9L482.5 155.1L483.2 155.2L483.8 155.4L484.5 155.5L485.2 155.7L485.9 155.8L486.5 155.9L487.2 156L487.9 156.1L488.5 156.1L489.2 156.2L489.9 156.3L490.5 156.4L491.2 156.4L491.9 156.5L492.6 156.5L493.2 156.6L493.9 156.6L494.6 156.7L495.2 156.7L495.9 156.7L496.6 156.8L497.2 156.8L497.9 156.8L498.6 156.9L499.3 156.9L499.9 156.9L500.6 156.9L501.3 157L501.9 157L502.6 157L503.3 157L503.9 157.1L504.6 157.1L505.3 157.1L506 157.1L506.6 157.1L507.3 157.1L508 157.2L508.6 157.2L509.3 157.2L510 157.2L510.6 157.2L511.3 157.2L512 157.2L512.7 157.3L513.3 157.3L514 157.3L514.7 157.3L515.3 157.3L516 157.3L516.7 157.3L517.3 157.3L518 157.4L518.7 157.4L519.4 157.4L520 157.4L520.7 157.4L520.7 158Z" fill="#8080ff"/><path d="M306.3 158L306.3 157.8L307 157.8L307.6 157.8L308.3 157.8L309 157.8L309.7 157.8L310.3 157.8L311 157.8L311.7 157.8L312.3 157.8L313 157.8L313.7 157.8L314.3 157.8L315 157.8L315.7 157.8L316.4 157.8L317 157.8L317.7 157.8L318.4 157.8L319 157.8L319.7 157.7L320.4 157.7L321 157.7L321.7 157.7L322.4 157.7L323.1 157.7L323.7 157.7L324.4 157.7L325.1 157.7L325.7 157.7L326.4 157.7L327.1 157.7L327.7 157.7L328.4 157.6L329.1 157.6L329.8 157.6L330.4 157.6L331.1 157.6L331.8 157.6L332.4 157.5L333.1 157.5L333.8 157.5L334.4 157.5L335.1 157.4L335.8 157.4L336.5 157.4L337.1 157.3L337.8 157.3L338.5 157.2L339.1 157.2L339.8 157.1L340.5 157L341.1 157L341.8 156.9L342.5 156.8L343.2 156.7L343.8 156.6L344.5 156.5L345.2 156.4L345.8 156.2L346.5 156.1L347.2 155.9L347.8 155.7L348.5 155.5L349.2 155.3L349.9 155.1L350.5 154.9L351.2 154.6L351.9 154.3L352.5 154L353.2 153.7L353.9 153.3L354.5 153L355.2 152.6L355.9 152.1L356.6 151.7L357.2 151.2L357.9 150.7L358.6 150.2L359.2 149.6L359.9 149L360.6 148.4L361.2 147.8L361.9 147.1L362.6 146.4L363.2 145.6L363.9 144.9L364.6 144.1L365.3 143.3L365.9 142.4L366.6 141.5L367.3 140.7L367.9 139.7L368.6 138.8L369.3 137.9L369.9 136.9L370.6 135.9L371.3 134.9L372 133.9L372.6 132.9L373.3 131.9L374 130.9L374.6 129.9L375.3 128.9L376 128L376.6 127L377.3 126.1L378 125.2L378.7 124.3L379.3 123.4L380 122.6L380.7 121.8L381.3 121.1L382 120.4L382.7 119.8L383.4 119.2L384 118.7L384.7 118.2L385.4 117.8L386 117.5L386.7 117.2L387.4 117L388 116.8L388.7 116.8L389.4 116.8L390.1 116.9L390.7 117L391.4 117.2L392.1 117.5L392.7 117.9L393.4 118.3L394.1 118.8L394.7 119.3L395.4 119.9L396.1 120.6L396.8 121.3L397.4 122L398.1 122.8L398.8 123.6L399.4 124.5L400.1 125.4L400.8 126.3L401.4 127.3L402.1 128.2L402.8 129.2L403.4 130.2L404.1 131.2L404.8 132.2L405.5 133.2L406.1 134.2L406.8 135.2L407.5 136.2L408.1 137.1L408.8 138.1L409.5 139.1L410.1 140L410.8 140.9L411.5 141.8L412.2 142.6L412.8 143.5L413.5 144.3L414.2 145.1L414.8 145.8L415.5 146.6L416.2 147.3L416.9 147.9L417.5 148.6L418.2 149.2L418.9 149.8L419.5 150.3L420.2 150.8L420.9 151.3L421.5 151.8L422.2 152.3L422.9 152.7L423.5 153.1L424.2 153.4L424.9 153.8L425.6 154.1L426.2 154.4L426.9 154.7L427.6 154.9L428.2 155.2L428.9 155.4L429.6 155.6L430.2 155.8L430.9 155.9L431.6 156.1L432.3 156.3L432.9 156.4L433.6 156.5L434.3 156.6L434.9 156.7L435.6 156.8L436.3 156.9L436.9 157L437.6 157.1L438.3 157.1L439 157.2L439.6 157.2L440.3 157.3L441 157.3L441.6 157.4L442.3 157.4L443 157.4L443.6 157.5L444.3 157.5L445 157.5L445.7 157.5L446.3 157.6L447 157.6L447.7 157.6L448.3 157.6L449 157.6L449.7 157.6L450.3 157.7L451 157.7L451.7 157.7L452.4 157.7L453 157.7L453.7 157.7L454.4 157.7L455 157.7L455.7 157.7L456.4 157.7L457 157.7L457.7 157.7L458.4 157.7L459.1 157.8L459.7 157.8L460.4 157.8L460.4 158Z" fill="#5cc480"/><path d="M373.3 158L373.3 157.4L374 157.4L374.6 157.4L375.3 157.4L376 157.4L376.6 157.4L377.3 157.4L378 157.4L378.7 157.4L379.3 157.3L380 157.3L380.7 157.3L381.3 157.3L382 157.3L382.7 157.3L383.4 157.3L384 157.3L384.7 157.3L385.4 157.2L386 157.2L386.7 157.2L387.4 157.2L388 157.2L388.7 157.2L389.4 157.2L390.1 157.2L390.7 157.1L391.4 157.1L392.1 157.1L392.7 157.1L393.4 157.1L394.1 157.1L394.7 157L395.4 157L396.1 157L396.8 157L397.4 157L398.1 156.9L398.8 156.9L399.4 156.9L400.1 156.9L400.8 156.8L401.4 156.8L402.1 156.8L402.8 156.8L403.4 156.7L404.1 156.7L404.8 156.7L405.5 156.7L406.1 156.6L406.8 156.6L407.5 156.6L408.1 156.5L408.8 156.5L409.5 156.4L410.1 156.4L410.8 156.3L411.5 156.3L412.2 156.2L412.8 156.2L413.5 156.1L414.2 156.1L414.8 156L415.5 155.9L416.2 155.8L416.9 155.7L417.5 155.6L418.2 155.5L418.9 155.4L419.5 155.3L420.2 155.1L420.9 155L421.5 154.8L422.2 154.6L422.9 154.3L423.5 154.1L424.2 153.8L424.9 153.5L425.6 153.2L426.2 152.8L426.9 152.4L427.6 151.9L428.2 151.4L428.9 150.8L429.6 150.2L430.2 149.5L430.9 148.8L431.6 148L432.3 147.1L432.9 146.1L433.6 145.1L434.3 143.9L434.9 142.7L435.6 141.4L436.3 140L436.9 138.4L437.6 136.8L438.3 135L439 133.2L439.6 131.2L440.3 129.1L441 126.9L441.6 124.6L442.3 122.2L443 119.7L443.6 117.1L444.3 114.3L445 111.5L445.7 108.6L446.3 108.8L447 109.8L447.7 110.9L448.3 112L449 113.2L449.7 114.4L450.3 115.6L451 116.9L451.7 118.3L452.4 119.6L453 120.9L453.7 122.3L454.4 123.6L455 125L455.7 126.3L456.4 127.7L457 129L457.7 130.3L458.4 131.6L459.1 132.8L459.7 134L460.4 135.2L461.1 136.4L461.7 137.5L462.4 138.6L463.1 139.7L463.8 140.7L464.4 141.7L465.1 142.6L465.8 143.5L466.4 144.4L467.1 145.2L467.8 146L468.4 146.7L469.1 147.4L469.8 148.1L470.4 148.7L471.1 149.3L471.8 149.9L472.5 150.4L473.1 150.9L473.8 151.3L474.5 151.8L475.1 152.2L475.8 152.5L476.5 152.9L477.1 153.2L477.8 153.5L478.5 153.8L479.2 154.1L479.8 154.3L480.5 154.5L481.2 154.7L481.8 154.9L482.5 155.1L483.2 155.2L483.8 155.4L484.5 155.5L485.2 155.7L485.9 155.8L486.5 155.9L487.2 156L487.9 156.1L488.5 156.1L489.2 156.2L489.9 156.3L490.5 156.4L491.2 156.4L491.9 156.5L492.6 156.5L493.2 156.6L493.9 156.6L494.6 156.7L495.2 156.7L495.9 156.7L496.6 156.8L497.2 156.8L497.9 156.8L498.6 156.9L499.3 156.9L499.9 156.9L500.6 156.9L501.3 157L501.9 157L502.6 157L503.3 157L503.9 157.1L504.6 157.1L505.3 157.1L506 157.1L506.6 157.1L507.3 157.1L508 157.2L508.6 157.2L509.3 157.2L510 157.2L510.6 157.2L511.3 157.2L512 157.2L512.7 157.3L513.3 157.3L514 157.3L514.7 157.3L515.3 157.3L516 157.3L516.7 157.3L517.3 157.3L518 157.4L518.7 157.4L519.4 157.4L520 157.4L520.7 157.4L520.7 158Z" fill="#9242cc"/><path d="M346.5 158L346.5 157.5L347.2 157.5L347.8 157.5L348.5 157.5L349.2 157.5L349.9 157.5L350.5 157.5L351.2 157.5L351.9 157.5L352.5 157.5L353.2 157.5L353.9 157.4L354.5 157.4L355.2 157.4L355.9 157.4L356.6 157.4L357.2 157.4L357.9 157.4L358.6 157.4L359.2 157.4L359.9 157.4L360.6 157.4L361.2 157.3L361.9 157.3L362.6 157.3L363.2 157.3L363.9 157.3L364.6 157.3L365.3 157.3L365.9 157.3L366.6 157.2L367.3 157.2L367.9 157.2L368.6 157.2L369.3 157.2L369.9 157.2L370.6 157.2L371.3 157.1L372 157.1L372.6 157.1L373.3 157.1L374 157.1L374.6 157.1L375.3 157L376 157L376.6 157L377.3 157L378 156.9L378.7 156.9L379.3 156.9L380 156.9L380.7 156.8L381.3 156.8L382 156.8L382.7 156.7L383.4 156.7L384 156.7L384.7 156.6L385.4 156.6L386 156.5L386.7 156.5L387.4 156.4L388 156.4L388.7 156.3L389.4 156.2L390.1 156.1L390.7 156.1L391.4 156L392.1 155.9L392.7 155.8L393.4 155.7L394.1 155.5L394.7 155.4L395.4 155.2L396.1 155.1L396.8 154.9L397.4 154.7L398.1 154.5L398.8 154.3L399.4 154.1L400.1 153.8L400.8 153.5L401.4 153.2L402.1 152.9L402.8 152.6L403.4 152.2L404.1 151.8L404.8 151.4L405.5 150.9L406.1 150.4L406.8 149.9L407.5 149.3L408.1 148.7L408.8 148.1L409.5 147.4L410.1 146.7L410.8 146L411.5 145.2L412.2 144.4L412.8 143.5L413.5 144.3L414.2 145.1L414.8 145.8L415.5 146.6L416.2 147.3L416.9 147.9L417.5 148.6L418.2 149.2L418.9 149.8L419.5 150.3L420.2 150.8L420.9 151.3L421.5 151.8L422.2 152.3L422.9 152.7L423.5 153.1L424.2 153.4L424.9 153.8L425.6 154.1L426.2 154.4L426.9 154.7L427.6 154.9L428.2 155.2L428.9 155.4L429.6 155.6L430.2 155.8L430.9 155.9L431.6 156.1L432.3 156.3L432.9 156.4L433.6 156.5L434.3 156.6L434.9 156.7L435.6 156.8L436.3 156.9L436.9 157L437.6 157.1L438.3 157.1L439 157.2L439.6 157.2L440.3 157.3L441 157.3L441.6 157.4L442.3 157.4L443 157.4L443.6 157.5L444.3 157.5L445 157.5L445.7 157.5L446.3 157.6L447 157.6L447.7 157.6L448.3 157.6L449 157.6L449.7 157.6L450.3 157.7L451 157.7L451.7 157.7L452.4 157.7L453 157.7L453.7 157.7L454.4 157.7L455 157.7L455.7 157.7L456.4 157.7L457 157.7L457.7 157.7L458.4 157.7L459.1 157.8L459.7 157.8L460.4 157.8L460.4 158Z" fill="#0a8a80"/><path d="M300.3 157.4L300.9 157.4L301.6 157.3L302.3 157.2L303 157.1L303.6 157L304.3 156.9L305 156.8L305.6 156.7L306.3 156.5L307 156.4L307.6 156.3L308.3 156.2L309 156L309.7 155.9L310.3 155.7L311 155.6L311.7 155.4L312.3 155.2L313 155.1L313.7 154.9L314.3 154.7L315 154.5L315.7 154.3L316.4 154.1L317 153.9L317.7 153.7L318.4 153.5L319 153.3L319.7 153L320.4 152.8L321 152.6L321.7 152.3L322.4 152.1L323.1 151.8L323.7 151.6L324.4 151.3L325.1 151.1L325.7 150.8L326.4 150.6L327.1 150.3L327.7 150.1L328.4 149.8L329.1 149.5L329.8 149.3L330.4 149L331.1 148.8L331.8 148.5L332.4 148.2L333.1 148L333.8 147.7L334.4 147.5L335.1 147.2L335.8 147L336.5 146.7L337.1 146.5L337.8 146.2L338.5 146L339.1 145.8L339.8 145.5L340.5 145.3L341.1 145.1L341.8 144.9L342.5 144.6L343.2 144.4L343.8 144.2L344.5 144L345.2 143.8L345.8 143.5L346.5 143.3L347.2 143.1L347.8 142.9L348.5 142.7L349.2 142.4L349.9 142.2L350.5 142L351.2 141.7L351.9 141.5L352.5 141.2L353.2 140.9L353.9 140.6L354.5 140.3L355.2 140L355.9 139.7L356.6 139.3L357.2 139L357.9 138.6L358.6 138.2L359.2 137.8L359.9 137.3L360.6 136.9L361.2 136.4L361.9 135.9L362.6 135.4L363.2 134.8L363.9 134.2L364.6 133.6L365.3 133L365.9 132.4L366.6 131.7L367.3 131L367.9 130.3L368.6 129.6L369.3 128.9L369.9 128.1L370.6 127.4L371.3 126.6L372 125.8L372.6 125L373.3 124.3L374 123.5L374.6 122.7L375.3 121.9L376 121.1L376.6 120.4L377.3 119.6L378 118.9L378.7 118.2L379.3 117.5L380 116.9L380.7 116.3L381.3 115.7L382 115.2L382.7 114.7L383.4 114.3L384 113.9L384.7 113.5L385.4 113.2L386 113L386.7 112.8L387.4 112.7L388 112.7L388.7 112.7L389.4 112.8L390.1 112.9L390.7 113.1L391.4 113.3L392.1 113.6L392.7 113.9L393.4 114.3L394.1 114.8L394.7 115.3L395.4 115.8L396.1 116.4L396.8 117L397.4 117.6L398.1 118.2L398.8 118.9L399.4 119.6L400.1 120.2L400.8 120.9L401.4 121.6L402.1 122.3L402.8 122.9L403.4 123.6L404.1 124.2L404.8 124.8L405.5 125.3L406.1 125.8L406.8 126.3L407.5 126.7L408.1 127.1L408.8 127.4L409.5 127.7L410.1 127.9L410.8 128L411.5 128.1L412.2 128.1L412.8 128.1L413.5 127.9L414.2 127.7L414.8 127.5L415.5 127.1L416.2 126.7L416.9 126.2L417.5 125.6L418.2 124.9L418.9 124.2L419.5 123.4L420.2 122.5L420.9 121.6L421.5 120.6L422.2 119.5L422.9 118.4L423.5 117.2L424.2 115.9L424.9 114.6L425.6 113.2L426.2 111.8L426.9 110.3L427.6 108.7L428.2 107.2L428.9 105.5L429.6 103.9L430.2 102.2L430.9 100.5L431.6 98.7L432.3 96.9L432.9 95.1L433.6 93.2L434.3 91.4L434.9 89.5L435.6 87.6L436.3 85.6L436.9 83.7L437.6 81.7L438.3 79.8L439 77.8L439.6 75.8L440.3 73.7L441 71.7L441.6 69.7L442.3 67.6L443 65.5L443.6 63.4L444.3 61.3L445 59.2L445.7 57L446.3 54.9L447 52.8L447.7 50.6L448.3 48.5L449 46.4L449.7 44.3L450.3 42.3L451 40.3L451.7 38.3L452.4 36.5L453 34.7L453.7 33.1L454.4 31.5L455 30.1L455.7 28.9L456.4 27.8L457 26.9L457.7 26.2L458.4 25.7L459.1 25.5L459.7 25.5L460.4 25.8L461.1 26.4L461.7 27.2L462.4 28.2L463.1 29.6L463.8 31.2L464.4 33.1L465.1 35.2L465.8 37.5L466.4 40.1L467.1 42.9L467.8 45.8L468.4 49L469.1 52.2L469.8 55.6L470.4 59.1L471.1 62.7L471.8 66.3L472.5 70L473.1 73.7L473.8 77.4L474.5 81.1L475.1 84.8L475.8 88.5L476.5 92.1L477.1 95.6L477.8 99.1L478.5 102.5L479.2 105.7L479.8 108.9L480.5 112L481.2 114.9L481.8 117.8L482.5 120.5L483.2 123.1L483.8 125.5L484.5 127.9L485.2 130.1L485.9 132.1L486.5 134.1L487.2 135.9L487.9 137.6L488.5 139.2L489.2 140.7L489.9 142.1L490.5 143.4L491.2 144.6L491.9 145.7L492.6 146.7L493.2 147.6L493.9 148.5L494.6 149.3L495.2 150L495.9 150.6L496.6 151.2L497.2 151.7L497.9 152.2L498.6 152.7L499.3 153.1L499.9 153.4L500.6 153.8L501.3 154.1L501.9 154.4L502.6 154.6L503.3 154.8L503.9 155L504.6 155.2L505.3 155.4L506 155.5L506.6 155.7L507.3 155.8L508 155.9L508.6 156L509.3 156.1L510 156.2L510.6 156.3L511.3 156.4L512 156.5L512.7 156.5L513.3 156.6L514 156.7L514.7 156.7L515.3 156.8L516 156.8L516.7 156.9L517.3 156.9L518 157L518.7 157L519.4 157.1L520 157.1L520.7 157.2L521.4 157.2L522 157.2L522.7 157.3L523.4 157.3L524 157.3L524.7 157.4L525.4 157.4L526.1 157.4L526.7 157.5L527.4 157.5L528.1 157.5L528.7 157.5L529.4 157.6L530.1 157.6L530.8 157.6L531.4 157.6L532.1 157.7L532.8 157.7L533.4 157.7L534.1 157.7L534.8 157.7L535.4 157.8L536.1 157.8L536.8 157.8L537.4 157.8L538.1 157.8L538.8 157.9L539.5 157.9L540.1 157.9" fill="none" stroke="#262626" stroke-width="0.95"/><g fill="none" stroke="#4a4a4a" stroke-width="0.7"><circle cx="302.3" cy="159.3" r="2.0"/><circle cx="303.6" cy="156.4" r="2.0"/><circle cx="305" cy="157.1" r="2.0"/><circle cx="306.3" cy="156.7" r="2.0"/><circle cx="307.6" cy="157" r="2.0"/><circle cx="309" cy="154.8" r="2.0"/><circle cx="310.3" cy="155.3" r="2.0"/><circle cx="311.7" cy="154.7" r="2.0"/><circle cx="313" cy="154.1" r="2.0"/><circle cx="314.3" cy="153.9" r="2.0"/><circle cx="315.7" cy="153.8" r="2.0"/><circle cx="317" cy="153.6" r="2.0"/><circle cx="318.4" cy="152.7" r="2.0"/><circle cx="319.7" cy="153.4" r="2.0"/><circle cx="321" cy="152.1" r="2.0"/><circle cx="322.4" cy="149.2" r="2.0"/><circle cx="323.7" cy="152.7" r="2.0"/><circle cx="325.1" cy="150.7" r="2.0"/><circle cx="326.4" cy="149.9" r="2.0"/><circle cx="327.7" cy="150.3" r="2.0"/><circle cx="329.1" cy="149.7" r="2.0"/><circle cx="330.4" cy="149.1" r="2.0"/><circle cx="331.8" cy="147.7" r="2.0"/><circle cx="333.1" cy="148.2" r="2.0"/><circle cx="334.4" cy="146.1" r="2.0"/><circle cx="335.8" cy="148.3" r="2.0"/><circle cx="337.1" cy="145.3" r="2.0"/><circle cx="338.5" cy="145.8" r="2.0"/><circle cx="339.8" cy="145.6" r="2.0"/><circle cx="341.1" cy="145.3" r="2.0"/><circle cx="342.5" cy="144.4" r="2.0"/><circle cx="343.8" cy="144.6" r="2.0"/><circle cx="345.2" cy="140.5" r="2.0"/><circle cx="346.5" cy="143.1" r="2.0"/><circle cx="347.8" cy="142.6" r="2.0"/><circle cx="349.2" cy="141.9" r="2.0"/><circle cx="350.5" cy="143.2" r="2.0"/><circle cx="351.9" cy="140.5" r="2.0"/><circle cx="353.2" cy="140.7" r="2.0"/><circle cx="354.5" cy="138.4" r="2.0"/><circle cx="355.9" cy="139.8" r="2.0"/><circle cx="357.2" cy="137.4" r="2.0"/><circle cx="358.6" cy="136.7" r="2.0"/><circle cx="359.9" cy="139.4" r="2.0"/><circle cx="361.2" cy="136.9" r="2.0"/><circle cx="362.6" cy="135.2" r="2.0"/><circle cx="363.9" cy="134.3" r="2.0"/><circle cx="365.3" cy="131.6" r="2.0"/><circle cx="366.6" cy="130.7" r="2.0"/><circle cx="367.9" cy="130.6" r="2.0"/><circle cx="369.3" cy="126.8" r="2.0"/><circle cx="370.6" cy="127.5" r="2.0"/><circle cx="372" cy="124.1" r="2.0"/><circle cx="373.3" cy="124.3" r="2.0"/><circle cx="374.6" cy="121.6" r="2.0"/><circle cx="376" cy="122.6" r="2.0"/><circle cx="377.3" cy="120.4" r="2.0"/><circle cx="378.7" cy="117.6" r="2.0"/><circle cx="380" cy="115.1" r="2.0"/><circle cx="381.3" cy="114.9" r="2.0"/><circle cx="382.7" cy="114.5" r="2.0"/><circle cx="384" cy="112.9" r="2.0"/><circle cx="385.4" cy="113.4" r="2.0"/><circle cx="386.7" cy="113.6" r="2.0"/><circle cx="388" cy="112.5" r="2.0"/><circle cx="389.4" cy="112.2" r="2.0"/><circle cx="390.7" cy="113.7" r="2.0"/><circle cx="392.1" cy="113.2" r="2.0"/><circle cx="393.4" cy="115" r="2.0"/><circle cx="394.7" cy="114.9" r="2.0"/><circle cx="396.1" cy="117.7" r="2.0"/><circle cx="397.4" cy="117.2" r="2.0"/><circle cx="398.8" cy="117.8" r="2.0"/><circle cx="400.1" cy="120.2" r="2.0"/><circle cx="401.4" cy="120.9" r="2.0"/><circle cx="402.8" cy="121.9" r="2.0"/><circle cx="404.1" cy="123.9" r="2.0"/><circle cx="405.5" cy="125.9" r="2.0"/><circle cx="406.8" cy="124.2" r="2.0"/><circle cx="408.1" cy="126.9" r="2.0"/><circle cx="409.5" cy="127.4" r="2.0"/><circle cx="410.8" cy="127.8" r="2.0"/><circle cx="412.2" cy="128.8" r="2.0"/><circle cx="413.5" cy="126.6" r="2.0"/><circle cx="414.8" cy="128" r="2.0"/><circle cx="416.2" cy="126.4" r="2.0"/><circle cx="417.5" cy="125.6" r="2.0"/><circle cx="418.9" cy="123.9" r="2.0"/><circle cx="420.2" cy="122.1" r="2.0"/><circle cx="421.5" cy="120" r="2.0"/><circle cx="422.9" cy="118.6" r="2.0"/><circle cx="424.2" cy="117.7" r="2.0"/><circle cx="425.6" cy="114" r="2.0"/><circle cx="426.9" cy="111" r="2.0"/><circle cx="428.2" cy="107.6" r="2.0"/><circle cx="429.6" cy="103.4" r="2.0"/><circle cx="430.9" cy="100.9" r="2.0"/><circle cx="432.3" cy="98.7" r="2.0"/><circle cx="433.6" cy="92" r="2.0"/><circle cx="434.9" cy="90.1" r="2.0"/><circle cx="436.3" cy="86.5" r="2.0"/><circle cx="437.6" cy="81.9" r="2.0"/><circle cx="439" cy="78.4" r="2.0"/><circle cx="440.3" cy="74.9" r="2.0"/><circle cx="441.6" cy="71.6" r="2.0"/><circle cx="443" cy="66.6" r="2.0"/><circle cx="444.3" cy="62.7" r="2.0"/><circle cx="445.7" cy="57.3" r="2.0"/><circle cx="447" cy="53.5" r="2.0"/><circle cx="448.3" cy="48.6" r="2.0"/><circle cx="449.7" cy="44.5" r="2.0"/><circle cx="451" cy="39.8" r="2.0"/><circle cx="452.4" cy="37" r="2.0"/><circle cx="453.7" cy="34.3" r="2.0"/><circle cx="455" cy="29.9" r="2.0"/><circle cx="456.4" cy="28" r="2.0"/><circle cx="457.7" cy="26.7" r="2.0"/><circle cx="459.1" cy="25.5" r="2.0"/><circle cx="460.4" cy="26.6" r="2.0"/><circle cx="461.7" cy="27.3" r="2.0"/><circle cx="463.1" cy="28.5" r="2.0"/><circle cx="464.4" cy="32.1" r="2.0"/><circle cx="465.8" cy="38.2" r="2.0"/><circle cx="467.1" cy="43.4" r="2.0"/><circle cx="468.4" cy="49.9" r="2.0"/><circle cx="469.8" cy="55.8" r="2.0"/><circle cx="471.1" cy="62.8" r="2.0"/><circle cx="472.5" cy="68.5" r="2.0"/><circle cx="473.8" cy="78.7" r="2.0"/><circle cx="475.1" cy="84" r="2.0"/><circle cx="476.5" cy="93" r="2.0"/><circle cx="477.8" cy="98" r="2.0"/><circle cx="479.2" cy="105.1" r="2.0"/><circle cx="480.5" cy="112.1" r="2.0"/><circle cx="481.8" cy="117.4" r="2.0"/><circle cx="483.2" cy="122.4" r="2.0"/><circle cx="484.5" cy="128.6" r="2.0"/><circle cx="485.9" cy="132.7" r="2.0"/><circle cx="487.2" cy="136.3" r="2.0"/><circle cx="488.5" cy="138.9" r="2.0"/><circle cx="489.9" cy="141.3" r="2.0"/><circle cx="491.2" cy="144.1" r="2.0"/><circle cx="492.6" cy="146.2" r="2.0"/><circle cx="493.9" cy="148.4" r="2.0"/><circle cx="495.2" cy="150.6" r="2.0"/><circle cx="496.6" cy="151" r="2.0"/><circle cx="497.9" cy="151.5" r="2.0"/><circle cx="499.3" cy="152.5" r="2.0"/><circle cx="500.6" cy="154.9" r="2.0"/><circle cx="501.9" cy="154.5" r="2.0"/><circle cx="503.3" cy="155" r="2.0"/><circle cx="504.6" cy="155.5" r="2.0"/><circle cx="506" cy="156.1" r="2.0"/><circle cx="507.3" cy="155.9" r="2.0"/><circle cx="508.6" cy="157.1" r="2.0"/><circle cx="510" cy="157" r="2.0"/><circle cx="511.3" cy="153.8" r="2.0"/><circle cx="512.7" cy="156.4" r="2.0"/><circle cx="514" cy="159.3" r="2.0"/><circle cx="515.3" cy="155.6" r="2.0"/><circle cx="516.7" cy="157" r="2.0"/><circle cx="518" cy="158" r="2.0"/><circle cx="519.4" cy="157.1" r="2.0"/><circle cx="520.7" cy="158.4" r="2.0"/><circle cx="522" cy="156.1" r="2.0"/><circle cx="523.4" cy="156.2" r="2.0"/><circle cx="524.7" cy="157.2" r="2.0"/><circle cx="526.1" cy="156.8" r="2.0"/><circle cx="527.4" cy="156.5" r="2.0"/><circle cx="528.7" cy="158" r="2.0"/><circle cx="530.1" cy="157.8" r="2.0"/><circle cx="531.4" cy="157.6" r="2.0"/><circle cx="532.8" cy="157.3" r="2.0"/><circle cx="534.1" cy="158" r="2.0"/><circle cx="535.4" cy="157.7" r="2.0"/><circle cx="536.8" cy="157.1" r="2.0"/><circle cx="538.1" cy="158.3" r="2.0"/></g><path d="M373.3 348L373.3 348L374 348L374.6 348L375.3 348L376 348L376.7 348L377.3 348L378 348L378.7 348L379.4 348L380 348L380.7 348L381.4 348L382 348L382.7 348L383.4 348L384.1 348L384.7 348L385.4 348L386.1 348L386.8 348L387.4 348L388.1 348L388.8 348L389.4 348L390.1 348L390.8 348L391.5 348L392.1 348L392.8 348L393.5 348L394.2 348L394.8 348L395.5 348L396.2 348L396.8 348L397.5 348L398.2 348L398.9 348L399.5 348L400.2 348L400.9 348L401.6 348L402.2 348L402.9 348L403.6 348L404.2 348L404.9 348L405.6 348L406.3 348L406.9 348L407.6 347.9L408.3 347.9L409 347.9L409.6 347.9L410.3 347.9L411 347.9L411.6 347.8L412.3 347.8L413 347.7L413.7 347.7L414.3 347.6L415 347.6L415.7 347.5L416.4 347.4L417 347.3L417.7 347.1L418.4 347L419 346.8L419.7 346.6L420.4 346.3L421.1 346.1L421.7 345.7L422.4 345.4L423.1 345L423.8 344.5L424.4 344L425.1 343.4L425.8 342.7L426.4 342L427.1 341.1L427.8 340.2L428.5 339.2L429.1 338L429.8 336.8L430.5 335.4L431.2 333.9L431.8 332.2L432.5 330.4L433.2 328.5L433.8 326.4L434.5 324.2L435.2 321.8L435.9 319.2L436.5 316.5L437.2 313.6L437.9 310.5L438.6 307.3L439.2 304L439.9 300.5L440.6 296.8L441.2 293.1L441.9 289.2L442.6 285.2L443.3 281.1L443.9 277L444.6 272.9L445.3 268.7L446 264.5L446.6 260.3L447.3 256.2L448 252.1L448.6 248.2L449.3 244.4L450 240.7L450.7 237.3L451.3 234L452 230.9L452.7 228.2L453.4 225.6L454 223.4L454.7 221.5L455.4 220L456 218.7L456.7 217.8L457.4 217.3L458.1 217.2L458.7 217.4L459.4 217.9L460.1 218.9L460.8 220.2L461.4 221.8L462.1 223.7L462.8 226L463.4 228.5L464.1 231.4L464.8 234.4L465.5 237.7L466.1 241.3L466.8 244.9L467.5 248.8L468.2 252.7L468.8 256.8L469.5 260.9L470.2 265.1L470.8 269.3L471.5 273.5L472.2 277.6L472.9 281.7L473.5 285.8L474.2 289.7L474.9 293.6L475.6 297.4L476.2 301L476.9 304.5L477.6 307.8L478.2 311L478.9 314L479.6 316.9L480.3 319.6L480.9 322.1L481.6 324.5L482.3 326.7L483 328.8L483.6 330.7L484.3 332.5L485 334.1L485.6 335.6L486.3 337L487 338.2L487.7 339.3L488.3 340.3L489 341.2L489.7 342.1L490.4 342.8L491 343.5L491.7 344.1L492.4 344.6L493 345L493.7 345.4L494.4 345.8L495.1 346.1L495.7 346.4L496.4 346.6L497.1 346.8L497.8 347L498.4 347.2L499.1 347.3L499.8 347.4L500.4 347.5L501.1 347.6L501.8 347.6L502.5 347.7L503.1 347.8L503.8 347.8L504.5 347.8L505.2 347.9L505.8 347.9L506.5 347.9L507.2 347.9L507.8 347.9L508.5 347.9L509.2 348L509.9 348L510.5 348L511.2 348L511.9 348L512.6 348L513.2 348L513.9 348L514.6 348L515.2 348L515.9 348L516.6 348L517.3 348L517.9 348L518.6 348L519.3 348L520 348L520.6 348L521.3 348L522 348L522.6 348L523.3 348L524 348L524.7 348L525.3 348L526 348L526.7 348L527.4 348L528 348L528.7 348L529.4 348L530 348L530.7 348L531.4 348L532.1 348L532.7 348L533.4 348L534.1 348L534.8 348L535.4 348L536.1 348L536.8 348L537.4 348L538.1 348L538.1 348Z" fill="#ff8080"/><path d="M353.2 348L353.2 348L353.9 348L354.5 348L355.2 348L355.9 348L356.6 348L357.2 348L357.9 348L358.6 348L359.2 348L359.9 348L360.6 348L361.2 348L361.9 348L362.6 348L363.2 348L363.9 348L364.6 348L365.3 348L365.9 348L366.6 348L367.3 348L367.9 348L368.6 348L369.3 348L369.9 348L370.6 348L371.3 348L372 348L372.6 348L373.3 348L374 348L374.6 347.9L375.3 347.9L376 347.9L376.6 347.9L377.3 347.9L378 347.9L378.7 347.9L379.3 347.9L380 347.8L380.7 347.8L381.3 347.8L382 347.8L382.7 347.7L383.4 347.7L384 347.6L384.7 347.6L385.4 347.5L386 347.5L386.7 347.4L387.4 347.4L388 347.3L388.7 347.2L389.4 347.1L390.1 347L390.7 346.9L391.4 346.8L392.1 346.7L392.7 346.5L393.4 346.4L394.1 346.2L394.7 346L395.4 345.9L396.1 345.7L396.8 345.4L397.4 345.2L398.1 345L398.8 344.7L399.4 344.5L400.1 344.2L400.8 343.9L401.4 343.6L402.1 343.3L402.8 342.9L403.4 342.6L404.1 342.2L404.8 341.8L405.5 341.5L406.1 341.1L406.8 340.7L407.5 340.2L408.1 339.8L408.8 339.4L409.5 339L410.1 338.5L410.8 338.1L411.5 337.7L412.2 337.2L412.8 336.8L413.5 336.4L414.2 335.9L414.8 335.5L415.5 335.1L416.2 334.7L416.9 334.4L417.5 334L418.2 333.7L418.9 333.4L419.5 333.1L420.2 332.8L420.9 332.6L421.5 332.3L422.2 332.2L422.9 332L423.5 331.9L424.2 331.8L424.9 331.7L425.6 331.7L426.2 331.6L426.9 331.7L427.6 331.7L428.2 331.8L428.9 331.9L429.6 332.1L430.2 332.3L430.9 332.5L431.6 332.7L432.3 333L432.9 333.3L433.6 333.6L434.3 333.9L434.9 334.2L435.6 334.6L436.3 335L436.9 335.4L437.6 335.8L438.3 336.2L439 336.6L439.6 337.1L440.3 337.5L441 337.9L441.6 338.4L442.3 338.8L443 339.2L443.6 339.7L444.3 340.1L445 340.5L445.7 340.9L446.3 341.3L447 341.7L447.7 342.1L448.3 342.5L449 342.8L449.7 343.1L450.3 343.5L451 343.8L451.7 344.1L452.4 344.4L453 344.6L453.7 344.9L454.4 345.1L455 345.4L455.7 345.6L456.4 345.8L457 346L457.7 346.2L458.4 346.3L459.1 346.5L459.7 346.6L460.4 346.7L461.1 346.9L461.7 347L462.4 347.1L463.1 347.2L463.8 347.3L464.4 347.3L465.1 347.4L465.8 347.5L466.4 347.5L467.1 347.6L467.8 347.6L468.4 347.7L469.1 347.7L469.8 347.7L470.4 347.8L471.1 347.8L471.8 347.8L472.5 347.8L473.1 347.9L473.8 347.9L474.5 347.9L475.1 347.9L475.8 347.9L476.5 347.9L477.1 347.9L477.8 348L478.5 348L479.2 348L479.8 348L480.5 348L481.2 348L481.8 348L482.5 348L483.2 348L483.8 348L484.5 348L485.2 348L485.9 348L486.5 348L487.2 348L487.9 348L488.5 348L489.2 348L489.9 348L490.5 348L491.2 348L491.9 348L492.6 348L493.2 348L493.9 348L494.6 348L495.2 348L495.9 348L496.6 348L497.2 348L497.9 348L498.6 348L499.3 348L499.9 348L500.6 348L501.3 348L501.9 348L502.6 348L503.3 348L503.9 348L504.6 348L505.3 348L506 348L506.6 348L507.3 348L507.3 348Z" fill="#8080ff"/><path d="M353.2 348L353.2 348L353.9 348L354.5 348L355.2 348L355.9 348L356.6 348L357.2 348L357.9 348L358.6 348L359.2 348L359.9 348L360.6 348L361.2 348L361.9 348L362.6 348L363.2 348L363.9 348L364.6 348L365.3 348L365.9 348L366.6 348L367.3 348L367.9 348L368.6 348L369.3 348L369.9 348L370.6 348L371.3 348L372 348L372.6 348L373.3 348L374 348L374.6 348L375.3 348L376 348L376.6 348L377.3 348L378 348L378.7 348L379.3 348L380 348L380.7 348L381.3 348L382 348L382.7 348L383.4 348L384 348L384.7 348L385.4 348L386 348L386.7 348L387.4 348L388 348L388.7 348L389.4 348L390.1 348L390.7 348L391.4 348L392.1 348L392.7 348L393.4 348L394.1 348L394.7 348L395.4 348L396.1 348L396.8 348L397.4 348L398.1 348L398.8 348L399.4 348L400.1 348L400.8 348L401.4 348L402.1 348L402.8 348L403.4 348L404.1 348L404.8 348L405.5 348L406.1 348L406.8 348L407.5 348L408.1 347.9L408.8 347.9L409.5 347.9L410.1 347.9L410.8 347.9L411.5 347.8L412.2 347.8L412.8 347.8L413.5 347.7L414.2 347.7L414.8 347.6L415.5 347.5L416.2 347.4L416.9 347.3L417.5 347.2L418.2 347L418.9 346.8L419.5 346.6L420.2 346.4L420.9 346.1L421.5 345.8L422.2 345.5L422.9 345.1L423.5 344.7L424.2 344.1L424.9 343.6L425.6 342.9L426.2 342.2L426.9 341.4L427.6 340.5L428.2 339.5L428.9 338.4L429.6 337.2L430.2 335.9L430.9 334.4L431.6 332.8L432.3 333L432.9 333.3L433.6 333.6L434.3 333.9L434.9 334.2L435.6 334.6L436.3 335L436.9 335.4L437.6 335.8L438.3 336.2L439 336.6L439.6 337.1L440.3 337.5L441 337.9L441.6 338.4L442.3 338.8L443 339.2L443.6 339.7L444.3 340.1L445 340.5L445.7 340.9L446.3 341.3L447 341.7L447.7 342.1L448.3 342.5L449 342.8L449.7 343.1L450.3 343.5L451 343.8L451.7 344.1L452.4 344.4L453 344.6L453.7 344.9L454.4 345.1L455 345.4L455.7 345.6L456.4 345.8L457 346L457.7 346.2L458.4 346.3L459.1 346.5L459.7 346.6L460.4 346.7L461.1 346.9L461.7 347L462.4 347.1L463.1 347.2L463.8 347.3L464.4 347.3L465.1 347.4L465.8 347.5L466.4 347.5L467.1 347.6L467.8 347.6L468.4 347.7L469.1 347.7L469.8 347.7L470.4 347.8L471.1 347.8L471.8 347.8L472.5 347.8L473.1 347.9L473.8 347.9L474.5 347.9L475.1 347.9L475.8 347.9L476.5 347.9L477.1 347.9L477.8 348L478.5 348L479.2 348L479.8 348L480.5 348L481.2 348L481.8 348L482.5 348L483.2 348L483.8 348L484.5 348L485.2 348L485.9 348L486.5 348L487.2 348L487.9 348L488.5 348L489.2 348L489.9 348L490.5 348L491.2 348L491.9 348L492.6 348L493.2 348L493.9 348L494.6 348L495.2 348L495.9 348L496.6 348L497.2 348L497.9 348L498.6 348L499.3 348L499.9 348L500.6 348L501.3 348L501.9 348L502.6 348L503.3 348L503.9 348L504.6 348L505.3 348L506 348L506.6 348L507.3 348L507.3 348Z" fill="#9242cc"/><path d="M300.3 347.1L300.9 347.1L301.6 347.1L302.3 347.1L303 347.1L303.6 347.1L304.3 347.1L305 347.1L305.6 347.1L306.3 347.1L307 347.1L307.6 347.1L308.3 347.1L309 347.1L309.7 347.1L310.3 347.1L311 347.1L311.7 347.1L312.3 347.1L313 347.1L313.7 347.1L314.3 347.1L315 347.1L315.7 347.1L316.4 347.1L317 347.1L317.7 347.1L318.4 347.1L319 347.1L319.7 347.1L320.4 347.1L321 347.1L321.7 347.1L322.4 347.1L323.1 347.1L323.7 347.1L324.4 347.1L325.1 347.1L325.7 347.1L326.4 347.1L327.1 347.1L327.7 347.1L328.4 347.1L329.1 347.1L329.8 347.1L330.4 347.1L331.1 347.1L331.8 347.1L332.4 347.1L333.1 347.1L333.8 347.1L334.4 347.1L335.1 347.1L335.8 347.1L336.5 347.1L337.1 347.1L337.8 347.1L338.5 347.1L339.1 347.1L339.8 347.1L340.5 347.1L341.1 347.1L341.8 347.1L342.5 347.1L343.2 347.1L343.8 347.1L344.5 347.1L345.2 347.1L345.8 347.1L346.5 347.1L347.2 347.1L347.8 347.1L348.5 347.1L349.2 347.1L349.9 347.1L350.5 347.1L351.2 347.1L351.9 347.1L352.5 347.1L353.2 347.1L353.9 347.1L354.5 347.1L355.2 347.1L355.9 347.1L356.6 347.1L357.2 347.1L357.9 347.1L358.6 347.1L359.2 347.1L359.9 347.1L360.6 347.1L361.2 347.1L361.9 347.1L362.6 347.1L363.2 347.1L363.9 347.1L364.6 347.1L365.3 347.1L365.9 347.1L366.6 347.1L367.3 347.1L367.9 347.1L368.6 347.1L369.3 347.1L369.9 347.1L370.6 347.1L371.3 347.1L372 347.1L372.6 347.1L373.3 347.1L374 347.1L374.6 347.1L375.3 347.1L376 347.1L376.6 347.1L377.3 347.1L378 347L378.7 347L379.3 347L380 347L380.7 347L381.3 346.9L382 346.9L382.7 346.9L383.4 346.8L384 346.8L384.7 346.7L385.4 346.7L386 346.6L386.7 346.6L387.4 346.5L388 346.4L388.7 346.4L389.4 346.3L390.1 346.2L390.7 346.1L391.4 346L392.1 345.8L392.7 345.7L393.4 345.6L394.1 345.4L394.7 345.3L395.4 345.1L396.1 344.9L396.8 344.7L397.4 344.5L398.1 344.3L398.8 344.1L399.4 343.9L400.1 343.6L400.8 343.4L401.4 343.1L402.1 342.9L402.8 342.6L403.4 342.3L404.1 341.9L404.8 341.6L405.5 341.2L406.1 340.9L406.8 340.5L407.5 340.1L408.1 339.7L408.8 339.3L409.5 338.8L410.1 338.4L410.8 337.9L411.5 337.5L412.2 337L412.8 336.6L413.5 336.1L414.2 335.6L414.8 335.1L415.5 334.7L416.2 334.2L416.9 333.7L417.5 333.2L418.2 332.7L418.9 332.3L419.5 331.8L420.2 331.3L420.9 330.8L421.5 330.2L422.2 329.7L422.9 329.1L423.5 328.6L424.2 327.9L424.9 327.3L425.6 326.6L426.2 325.9L426.9 325.1L427.6 324.3L428.2 323.4L428.9 322.4L429.6 321.3L430.2 320.2L430.9 318.9L431.6 317.6L432.3 316.1L432.9 314.5L433.6 312.8L434.3 311L434.9 309L435.6 306.9L436.3 304.6L436.9 302.2L437.6 299.6L438.3 296.9L439 294L439.6 291L440.3 287.9L441 284.6L441.6 281.2L442.3 277.7L443 274.2L443.6 270.5L444.3 266.8L445 263L445.7 259.3L446.3 255.5L447 251.8L447.7 248.1L448.3 244.5L449 241L449.7 237.6L450.3 234.4L451 231.3L451.7 228.5L452.4 225.9L453 223.5L453.7 221.4L454.4 219.6L455 218.1L455.7 216.9L456.4 216L457 215.5L457.7 215.3L458.4 215.4L459.1 215.9L459.7 216.7L460.4 217.9L461.1 219.4L461.7 221.2L462.4 223.3L463.1 225.6L463.8 228.2L464.4 231.1L465.1 234.2L465.8 237.4L466.4 240.8L467.1 244.3L467.8 247.9L468.4 251.7L469.1 255.4L469.8 259.2L470.4 263L471.1 266.7L471.8 270.4L472.5 274L473.1 277.6L473.8 281L474.5 284.4L475.1 287.6L475.8 290.7L476.5 293.6L477.1 296.4L477.8 299.1L478.5 301.6L479.2 304.1L479.8 306.3L480.5 308.5L481.2 310.5L481.8 312.5L482.5 314.3L483.2 316.1L483.8 317.8L484.5 319.4L485.2 320.9L485.9 322.4L486.5 323.8L487.2 325.2L487.9 326.6L488.5 327.9L489.2 329.1L489.9 330.4L490.5 331.6L491.2 332.7L491.9 333.8L492.6 334.9L493.2 336L493.9 337L494.6 337.9L495.2 338.8L495.9 339.7L496.6 340.5L497.2 341.3L497.9 342L498.6 342.7L499.3 343.3L499.9 343.8L500.6 344.4L501.3 344.8L501.9 345.2L502.6 345.6L503.3 346L503.9 346.3L504.6 346.5L505.3 346.8L506 347L506.6 347.1L507.3 347.3L508 347.4L508.6 347.5L509.3 347.6L510 347.7L510.6 347.8L511.3 347.8L512 347.9L512.7 347.9L513.3 347.9L514 348L514.7 348L515.3 348L516 348L516.7 348L517.3 348L518 348L518.7 348L519.4 348L520 348L520.7 348L521.4 348L522 348L522.7 348L523.4 348L524 348L524.7 348L525.4 348L526.1 348L526.7 348L527.4 348L528.1 348L528.7 348L529.4 348L530.1 348L530.8 348L531.4 348L532.1 348L532.8 348L533.4 348L534.1 348L534.8 348L535.4 348L536.1 348L536.8 348L537.4 348L538.1 348L538.8 348L539.5 348L540.1 348" fill="none" stroke="#262626" stroke-width="0.95"/><g fill="none" stroke="#4a4a4a" stroke-width="0.7"><circle cx="302.3" cy="347.2" r="2.0"/><circle cx="303.6" cy="347.6" r="2.0"/><circle cx="305" cy="346.7" r="2.0"/><circle cx="306.3" cy="347.5" r="2.0"/><circle cx="307.6" cy="348" r="2.0"/><circle cx="309" cy="347.5" r="2.0"/><circle cx="310.3" cy="348.6" r="2.0"/><circle cx="311.7" cy="346.3" r="2.0"/><circle cx="313" cy="347.2" r="2.0"/><circle cx="314.3" cy="346.5" r="2.0"/><circle cx="315.7" cy="346.4" r="2.0"/><circle cx="317" cy="347" r="2.0"/><circle cx="318.4" cy="347.3" r="2.0"/><circle cx="319.7" cy="347.5" r="2.0"/><circle cx="321" cy="347.6" r="2.0"/><circle cx="322.4" cy="349.2" r="2.0"/><circle cx="323.7" cy="347.9" r="2.0"/><circle cx="325.1" cy="345.7" r="2.0"/><circle cx="326.4" cy="347.3" r="2.0"/><circle cx="327.7" cy="346.6" r="2.0"/><circle cx="329.1" cy="346.7" r="2.0"/><circle cx="330.4" cy="348.3" r="2.0"/><circle cx="331.8" cy="346.9" r="2.0"/><circle cx="333.1" cy="345.4" r="2.0"/><circle cx="334.4" cy="347.4" r="2.0"/><circle cx="335.8" cy="346.9" r="2.0"/><circle cx="337.1" cy="346.1" r="2.0"/><circle cx="338.5" cy="346.3" r="2.0"/><circle cx="339.8" cy="346.6" r="2.0"/><circle cx="341.1" cy="347.1" r="2.0"/><circle cx="342.5" cy="346.8" r="2.0"/><circle cx="343.8" cy="347.2" r="2.0"/><circle cx="345.2" cy="348.8" r="2.0"/><circle cx="346.5" cy="346.4" r="2.0"/><circle cx="347.8" cy="346.4" r="2.0"/><circle cx="349.2" cy="346.9" r="2.0"/><circle cx="350.5" cy="348.1" r="2.0"/><circle cx="351.9" cy="346.5" r="2.0"/><circle cx="353.2" cy="348.4" r="2.0"/><circle cx="354.5" cy="346" r="2.0"/><circle cx="355.9" cy="346.2" r="2.0"/><circle cx="357.2" cy="347.1" r="2.0"/><circle cx="358.6" cy="346.4" r="2.0"/><circle cx="359.9" cy="346.6" r="2.0"/><circle cx="361.2" cy="347.5" r="2.0"/><circle cx="362.6" cy="347.8" r="2.0"/><circle cx="363.9" cy="347.2" r="2.0"/><circle cx="365.3" cy="346.9" r="2.0"/><circle cx="366.6" cy="348.3" r="2.0"/><circle cx="367.9" cy="347.5" r="2.0"/><circle cx="369.3" cy="346.9" r="2.0"/><circle cx="370.6" cy="348.2" r="2.0"/><circle cx="372" cy="346.3" r="2.0"/><circle cx="373.3" cy="347.3" r="2.0"/><circle cx="374.6" cy="347.7" r="2.0"/><circle cx="376" cy="347.1" r="2.0"/><circle cx="377.3" cy="346.5" r="2.0"/><circle cx="378.7" cy="347.3" r="2.0"/><circle cx="380" cy="346.5" r="2.0"/><circle cx="381.3" cy="346.4" r="2.0"/><circle cx="382.7" cy="345.9" r="2.0"/><circle cx="384" cy="348" r="2.0"/><circle cx="385.4" cy="346.2" r="2.0"/><circle cx="386.7" cy="347.6" r="2.0"/><circle cx="388" cy="346.8" r="2.0"/><circle cx="389.4" cy="346" r="2.0"/><circle cx="390.7" cy="346.7" r="2.0"/><circle cx="392.1" cy="346.1" r="2.0"/><circle cx="393.4" cy="345.7" r="2.0"/><circle cx="394.7" cy="344" r="2.0"/><circle cx="396.1" cy="345" r="2.0"/><circle cx="397.4" cy="345.3" r="2.0"/><circle cx="398.8" cy="344.5" r="2.0"/><circle cx="400.1" cy="344.5" r="2.0"/><circle cx="401.4" cy="344.5" r="2.0"/><circle cx="402.8" cy="342.9" r="2.0"/><circle cx="404.1" cy="343.7" r="2.0"/><circle cx="405.5" cy="339.9" r="2.0"/><circle cx="406.8" cy="340.3" r="2.0"/><circle cx="408.1" cy="337.4" r="2.0"/><circle cx="409.5" cy="339.6" r="2.0"/><circle cx="410.8" cy="338" r="2.0"/><circle cx="412.2" cy="338.5" r="2.0"/><circle cx="413.5" cy="335.8" r="2.0"/><circle cx="414.8" cy="333.3" r="2.0"/><circle cx="416.2" cy="335.3" r="2.0"/><circle cx="417.5" cy="332" r="2.0"/><circle cx="418.9" cy="331.1" r="2.0"/><circle cx="420.2" cy="331.1" r="2.0"/><circle cx="421.5" cy="330.8" r="2.0"/><circle cx="422.9" cy="328.7" r="2.0"/><circle cx="424.2" cy="328.1" r="2.0"/><circle cx="425.6" cy="324.9" r="2.0"/><circle cx="426.9" cy="326.7" r="2.0"/><circle cx="428.2" cy="323.3" r="2.0"/><circle cx="429.6" cy="321.4" r="2.0"/><circle cx="430.9" cy="319.5" r="2.0"/><circle cx="432.3" cy="316.3" r="2.0"/><circle cx="433.6" cy="313" r="2.0"/><circle cx="434.9" cy="308.1" r="2.0"/><circle cx="436.3" cy="304.5" r="2.0"/><circle cx="437.6" cy="300" r="2.0"/><circle cx="439" cy="294.9" r="2.0"/><circle cx="440.3" cy="287.8" r="2.0"/><circle cx="441.6" cy="281.3" r="2.0"/><circle cx="443" cy="274.5" r="2.0"/><circle cx="444.3" cy="267.3" r="2.0"/><circle cx="445.7" cy="259.5" r="2.0"/><circle cx="447" cy="251.6" r="2.0"/><circle cx="448.3" cy="244" r="2.0"/><circle cx="449.7" cy="238.6" r="2.0"/><circle cx="451" cy="231.6" r="2.0"/><circle cx="452.4" cy="225.9" r="2.0"/><circle cx="453.7" cy="224.5" r="2.0"/><circle cx="455" cy="218.8" r="2.0"/><circle cx="456.4" cy="216.8" r="2.0"/><circle cx="457.7" cy="215.4" r="2.0"/><circle cx="459.1" cy="215" r="2.0"/><circle cx="460.4" cy="218.9" r="2.0"/><circle cx="461.7" cy="221.1" r="2.0"/><circle cx="463.1" cy="225.7" r="2.0"/><circle cx="464.4" cy="232" r="2.0"/><circle cx="465.8" cy="238.3" r="2.0"/><circle cx="467.1" cy="244.5" r="2.0"/><circle cx="468.4" cy="251.7" r="2.0"/><circle cx="469.8" cy="261.1" r="2.0"/><circle cx="471.1" cy="267.2" r="2.0"/><circle cx="472.5" cy="273.1" r="2.0"/><circle cx="473.8" cy="281.7" r="2.0"/><circle cx="475.1" cy="287.7" r="2.0"/><circle cx="476.5" cy="293.6" r="2.0"/><circle cx="477.8" cy="299.7" r="2.0"/><circle cx="479.2" cy="304.3" r="2.0"/><circle cx="480.5" cy="310.3" r="2.0"/><circle cx="481.8" cy="312.7" r="2.0"/><circle cx="483.2" cy="316.3" r="2.0"/><circle cx="484.5" cy="320.4" r="2.0"/><circle cx="485.9" cy="321.9" r="2.0"/><circle cx="487.2" cy="326.1" r="2.0"/><circle cx="488.5" cy="327.8" r="2.0"/><circle cx="489.9" cy="331.4" r="2.0"/><circle cx="491.2" cy="332" r="2.0"/><circle cx="492.6" cy="335.3" r="2.0"/><circle cx="493.9" cy="335.5" r="2.0"/><circle cx="495.2" cy="338.4" r="2.0"/><circle cx="496.6" cy="340.5" r="2.0"/><circle cx="497.9" cy="342.5" r="2.0"/><circle cx="499.3" cy="345.1" r="2.0"/><circle cx="500.6" cy="346" r="2.0"/><circle cx="501.9" cy="344" r="2.0"/><circle cx="503.3" cy="345.3" r="2.0"/><circle cx="504.6" cy="347.7" r="2.0"/><circle cx="506" cy="347.4" r="2.0"/><circle cx="507.3" cy="346.1" r="2.0"/><circle cx="508.6" cy="348" r="2.0"/><circle cx="510" cy="346.7" r="2.0"/><circle cx="511.3" cy="347" r="2.0"/><circle cx="512.7" cy="346.8" r="2.0"/><circle cx="514" cy="347.7" r="2.0"/><circle cx="515.3" cy="350" r="2.0"/><circle cx="516.7" cy="348.4" r="2.0"/><circle cx="518" cy="347.9" r="2.0"/><circle cx="519.4" cy="350.3" r="2.0"/><circle cx="520.7" cy="347.6" r="2.0"/><circle cx="522" cy="347.9" r="2.0"/><circle cx="523.4" cy="347.8" r="2.0"/><circle cx="524.7" cy="348.4" r="2.0"/><circle cx="526.1" cy="347.8" r="2.0"/><circle cx="527.4" cy="349.4" r="2.0"/><circle cx="528.7" cy="347.8" r="2.0"/><circle cx="530.1" cy="348.6" r="2.0"/><circle cx="531.4" cy="348.2" r="2.0"/><circle cx="532.8" cy="347.3" r="2.0"/><circle cx="534.1" cy="347.2" r="2.0"/><circle cx="535.4" cy="348" r="2.0"/><circle cx="536.8" cy="346" r="2.0"/><circle cx="538.1" cy="348.1" r="2.0"/></g><rect x="23.6" y="7" width="241.2" height="168.2" fill="none" stroke="#262626" stroke-width="1.15"/><path d="M43.7 175.2V178.8" stroke="#262626" stroke-width="1.1"/><text x="43.7" y="186.8" font-size="7.9" text-anchor="middle">1026</text><path d="M83.9 175.2V178.8" stroke="#262626" stroke-width="1.1"/><text x="83.9" y="186.8" font-size="7.9" text-anchor="middle">1024</text><path d="M124.1 175.2V178.8" stroke="#262626" stroke-width="1.1"/><text x="124.1" y="186.8" font-size="7.9" text-anchor="middle">1022</text><path d="M164.3 175.2V178.8" stroke="#262626" stroke-width="1.1"/><text x="164.3" y="186.8" font-size="7.9" text-anchor="middle">1020</text><path d="M204.5 175.2V178.8" stroke="#262626" stroke-width="1.1"/><text x="204.5" y="186.8" font-size="7.9" text-anchor="middle">1018</text><path d="M244.7 175.2V178.8" stroke="#262626" stroke-width="1.1"/><text x="244.7" y="186.8" font-size="7.9" text-anchor="middle">1016</text><path d="M63.8 175.2V176.8" stroke="#262626" stroke-width="1"/><path d="M104 175.2V176.8" stroke="#262626" stroke-width="1"/><path d="M144.2 175.2V176.8" stroke="#262626" stroke-width="1"/><path d="M184.4 175.2V176.8" stroke="#262626" stroke-width="1"/><path d="M224.6 175.2V176.8" stroke="#262626" stroke-width="1"/><path d="M264.8 175.2V176.8" stroke="#262626" stroke-width="1"/><rect x="23.6" y="199.5" width="241.2" height="167.8" fill="none" stroke="#262626" stroke-width="1.15"/><path d="M43.7 367.3V370.9" stroke="#262626" stroke-width="1.1"/><text x="43.7" y="378.9" font-size="7.9" text-anchor="middle">1026</text><path d="M83.9 367.3V370.9" stroke="#262626" stroke-width="1.1"/><text x="83.9" y="378.9" font-size="7.9" text-anchor="middle">1024</text><path d="M124.1 367.3V370.9" stroke="#262626" stroke-width="1.1"/><text x="124.1" y="378.9" font-size="7.9" text-anchor="middle">1022</text><path d="M164.3 367.3V370.9" stroke="#262626" stroke-width="1.1"/><text x="164.3" y="378.9" font-size="7.9" text-anchor="middle">1020</text><path d="M204.5 367.3V370.9" stroke="#262626" stroke-width="1.1"/><text x="204.5" y="378.9" font-size="7.9" text-anchor="middle">1018</text><path d="M244.7 367.3V370.9" stroke="#262626" stroke-width="1.1"/><text x="244.7" y="378.9" font-size="7.9" text-anchor="middle">1016</text><path d="M63.8 367.3V368.9" stroke="#262626" stroke-width="1"/><path d="M104 367.3V368.9" stroke="#262626" stroke-width="1"/><path d="M144.2 367.3V368.9" stroke="#262626" stroke-width="1"/><path d="M184.4 367.3V368.9" stroke="#262626" stroke-width="1"/><path d="M224.6 367.3V368.9" stroke="#262626" stroke-width="1"/><path d="M264.8 367.3V368.9" stroke="#262626" stroke-width="1"/><rect x="299.6" y="7" width="241.2" height="168.2" fill="none" stroke="#262626" stroke-width="1.15"/><path d="M313 175.2V178.8" stroke="#262626" stroke-width="1.1"/><text x="313" y="186.8" font-size="7.9" text-anchor="middle">792</text><path d="M339.8 175.2V178.8" stroke="#262626" stroke-width="1.1"/><text x="339.8" y="186.8" font-size="7.9" text-anchor="middle">790</text><path d="M366.6 175.2V178.8" stroke="#262626" stroke-width="1.1"/><text x="366.6" y="186.8" font-size="7.9" text-anchor="middle">788</text><path d="M393.4 175.2V178.8" stroke="#262626" stroke-width="1.1"/><text x="393.4" y="186.8" font-size="7.9" text-anchor="middle">786</text><path d="M420.2 175.2V178.8" stroke="#262626" stroke-width="1.1"/><text x="420.2" y="186.8" font-size="7.9" text-anchor="middle">784</text><path d="M447 175.2V178.8" stroke="#262626" stroke-width="1.1"/><text x="447" y="186.8" font-size="7.9" text-anchor="middle">782</text><path d="M473.8 175.2V178.8" stroke="#262626" stroke-width="1.1"/><text x="473.8" y="186.8" font-size="7.9" text-anchor="middle">780</text><path d="M500.6 175.2V178.8" stroke="#262626" stroke-width="1.1"/><text x="500.6" y="186.8" font-size="7.9" text-anchor="middle">778</text><path d="M527.4 175.2V178.8" stroke="#262626" stroke-width="1.1"/><text x="527.4" y="186.8" font-size="7.9" text-anchor="middle">776</text><path d="M326.4 175.2V176.8" stroke="#262626" stroke-width="1"/><path d="M353.2 175.2V176.8" stroke="#262626" stroke-width="1"/><path d="M380 175.2V176.8" stroke="#262626" stroke-width="1"/><path d="M406.8 175.2V176.8" stroke="#262626" stroke-width="1"/><path d="M433.6 175.2V176.8" stroke="#262626" stroke-width="1"/><path d="M460.4 175.2V176.8" stroke="#262626" stroke-width="1"/><path d="M487.2 175.2V176.8" stroke="#262626" stroke-width="1"/><path d="M514 175.2V176.8" stroke="#262626" stroke-width="1"/><path d="M540.8 175.2V176.8" stroke="#262626" stroke-width="1"/><rect x="299.6" y="199.5" width="241.2" height="167.8" fill="none" stroke="#262626" stroke-width="1.15"/><path d="M313 367.3V370.9" stroke="#262626" stroke-width="1.1"/><text x="313" y="378.9" font-size="7.9" text-anchor="middle">792</text><path d="M339.8 367.3V370.9" stroke="#262626" stroke-width="1.1"/><text x="339.8" y="378.9" font-size="7.9" text-anchor="middle">790</text><path d="M366.6 367.3V370.9" stroke="#262626" stroke-width="1.1"/><text x="366.6" y="378.9" font-size="7.9" text-anchor="middle">788</text><path d="M393.4 367.3V370.9" stroke="#262626" stroke-width="1.1"/><text x="393.4" y="378.9" font-size="7.9" text-anchor="middle">786</text><path d="M420.2 367.3V370.9" stroke="#262626" stroke-width="1.1"/><text x="420.2" y="378.9" font-size="7.9" text-anchor="middle">784</text><path d="M447 367.3V370.9" stroke="#262626" stroke-width="1.1"/><text x="447" y="378.9" font-size="7.9" text-anchor="middle">782</text><path d="M473.8 367.3V370.9" stroke="#262626" stroke-width="1.1"/><text x="473.8" y="378.9" font-size="7.9" text-anchor="middle">780</text><path d="M500.6 367.3V370.9" stroke="#262626" stroke-width="1.1"/><text x="500.6" y="378.9" font-size="7.9" text-anchor="middle">778</text><path d="M527.4 367.3V370.9" stroke="#262626" stroke-width="1.1"/><text x="527.4" y="378.9" font-size="7.9" text-anchor="middle">776</text><path d="M326.4 367.3V368.9" stroke="#262626" stroke-width="1"/><path d="M353.2 367.3V368.9" stroke="#262626" stroke-width="1"/><path d="M380 367.3V368.9" stroke="#262626" stroke-width="1"/><path d="M406.8 367.3V368.9" stroke="#262626" stroke-width="1"/><path d="M433.6 367.3V368.9" stroke="#262626" stroke-width="1"/><path d="M460.4 367.3V368.9" stroke="#262626" stroke-width="1"/><path d="M487.2 367.3V368.9" stroke="#262626" stroke-width="1"/><path d="M514 367.3V368.9" stroke="#262626" stroke-width="1"/><path d="M540.8 367.3V368.9" stroke="#262626" stroke-width="1"/><rect x="211.5" y="14.5" width="46" height="23" fill="#fff" stroke="#858585" stroke-width="0.85"/><circle cx="224.8" cy="21.2" r="1.75" fill="none" stroke="#3a3a3a" stroke-width="0.95"/><path d="M214.7 32.3H235.1" stroke="#3a3a3a" stroke-width="0.95"/><text x="237.7" y="24.2" font-size="8.9">Exp.</text><text x="237.7" y="35.3" font-size="8.9">Fit</text><rect x="487.2" y="15.2" width="46" height="23" fill="#fff" stroke="#858585" stroke-width="0.85"/><circle cx="500.5" cy="21.9" r="1.75" fill="none" stroke="#3a3a3a" stroke-width="0.95"/><path d="M490.4 33H510.8" stroke="#3a3a3a" stroke-width="0.95"/><text x="513.4" y="24.9" font-size="8.9">Exp.</text><text x="513.4" y="36" font-size="8.9">Fit</text><rect x="211.5" y="207.5" width="46" height="23" fill="#fff" stroke="#858585" stroke-width="0.85"/><circle cx="224.8" cy="214.2" r="1.75" fill="none" stroke="#3a3a3a" stroke-width="0.95"/><path d="M214.7 225.3H235.1" stroke="#3a3a3a" stroke-width="0.95"/><text x="237.7" y="217.2" font-size="8.9">Exp.</text><text x="237.7" y="228.3" font-size="8.9">Fit</text><rect x="487" y="207.8" width="46" height="23" fill="#fff" stroke="#858585" stroke-width="0.85"/><circle cx="500.3" cy="214.5" r="1.75" fill="none" stroke="#3a3a3a" stroke-width="0.95"/><path d="M490.2 225.6H510.6" stroke="#3a3a3a" stroke-width="0.95"/><text x="513.2" y="217.5" font-size="8.9">Exp.</text><text x="513.2" y="228.6" font-size="8.9">Fit</text><text x="31.8" y="23.2" font-size="9.1" font-weight="bold" fill="#111">Zn 2p</text><text x="31.8" y="214.4" font-size="9.1" font-weight="bold" fill="#111">Zn 2p</text><text x="307.8" y="23" font-size="9.1" font-weight="bold" fill="#111">Co 2p</text><text x="307.8" y="214" font-size="9.1" font-weight="bold" fill="#111">Co 2p</text><text x="28.8" y="141.6" font-size="9.35">ZIF-8</text><text x="29.1" y="336.5" font-size="9.35">ZIF-8-m</text><text x="305.2" y="141.7" font-size="9.35">ZIF-67</text><text x="304.9" y="336.4" font-size="9.2">ZIF-67-m</text><text x="154.4" y="38.9" font-size="9.35">Zn 2p<tspan font-size="5.9" dy="3.3">3/2</tspan></text><text x="153" y="233.9" font-size="9.35">Zn 2p<tspan font-size="5.9" dy="3.3">3/2</tspan></text><text x="481.6" y="71.8" font-size="9.35">Co 2p<tspan font-size="5.9" dy="3.3">3/2</tspan></text><text x="478.3" y="266.5" font-size="9.35">Co 2p<tspan font-size="5.9" dy="3.3">3/2</tspan></text><text transform="translate(14.4 96.5) rotate(-90)" text-anchor="middle" font-size="9.2">Intensity (a.u.)</text><text transform="translate(14.4 289) rotate(-90)" text-anchor="middle" font-size="9.2">Intensity (a.u.)</text><text transform="translate(291.5 96.6) rotate(-90)" text-anchor="middle" font-size="9.2">Intensity (a.u.)</text><text transform="translate(291.5 289) rotate(-90)" text-anchor="middle" font-size="9.2">Intensity (a.u.)</text><text x="144.5" y="394.3" font-size="9.25" text-anchor="middle">Binding Energy (eV)</text><text x="420.2" y="394.3" font-size="9.25" text-anchor="middle">Binding Energy (eV)</text></svg></body></html>
